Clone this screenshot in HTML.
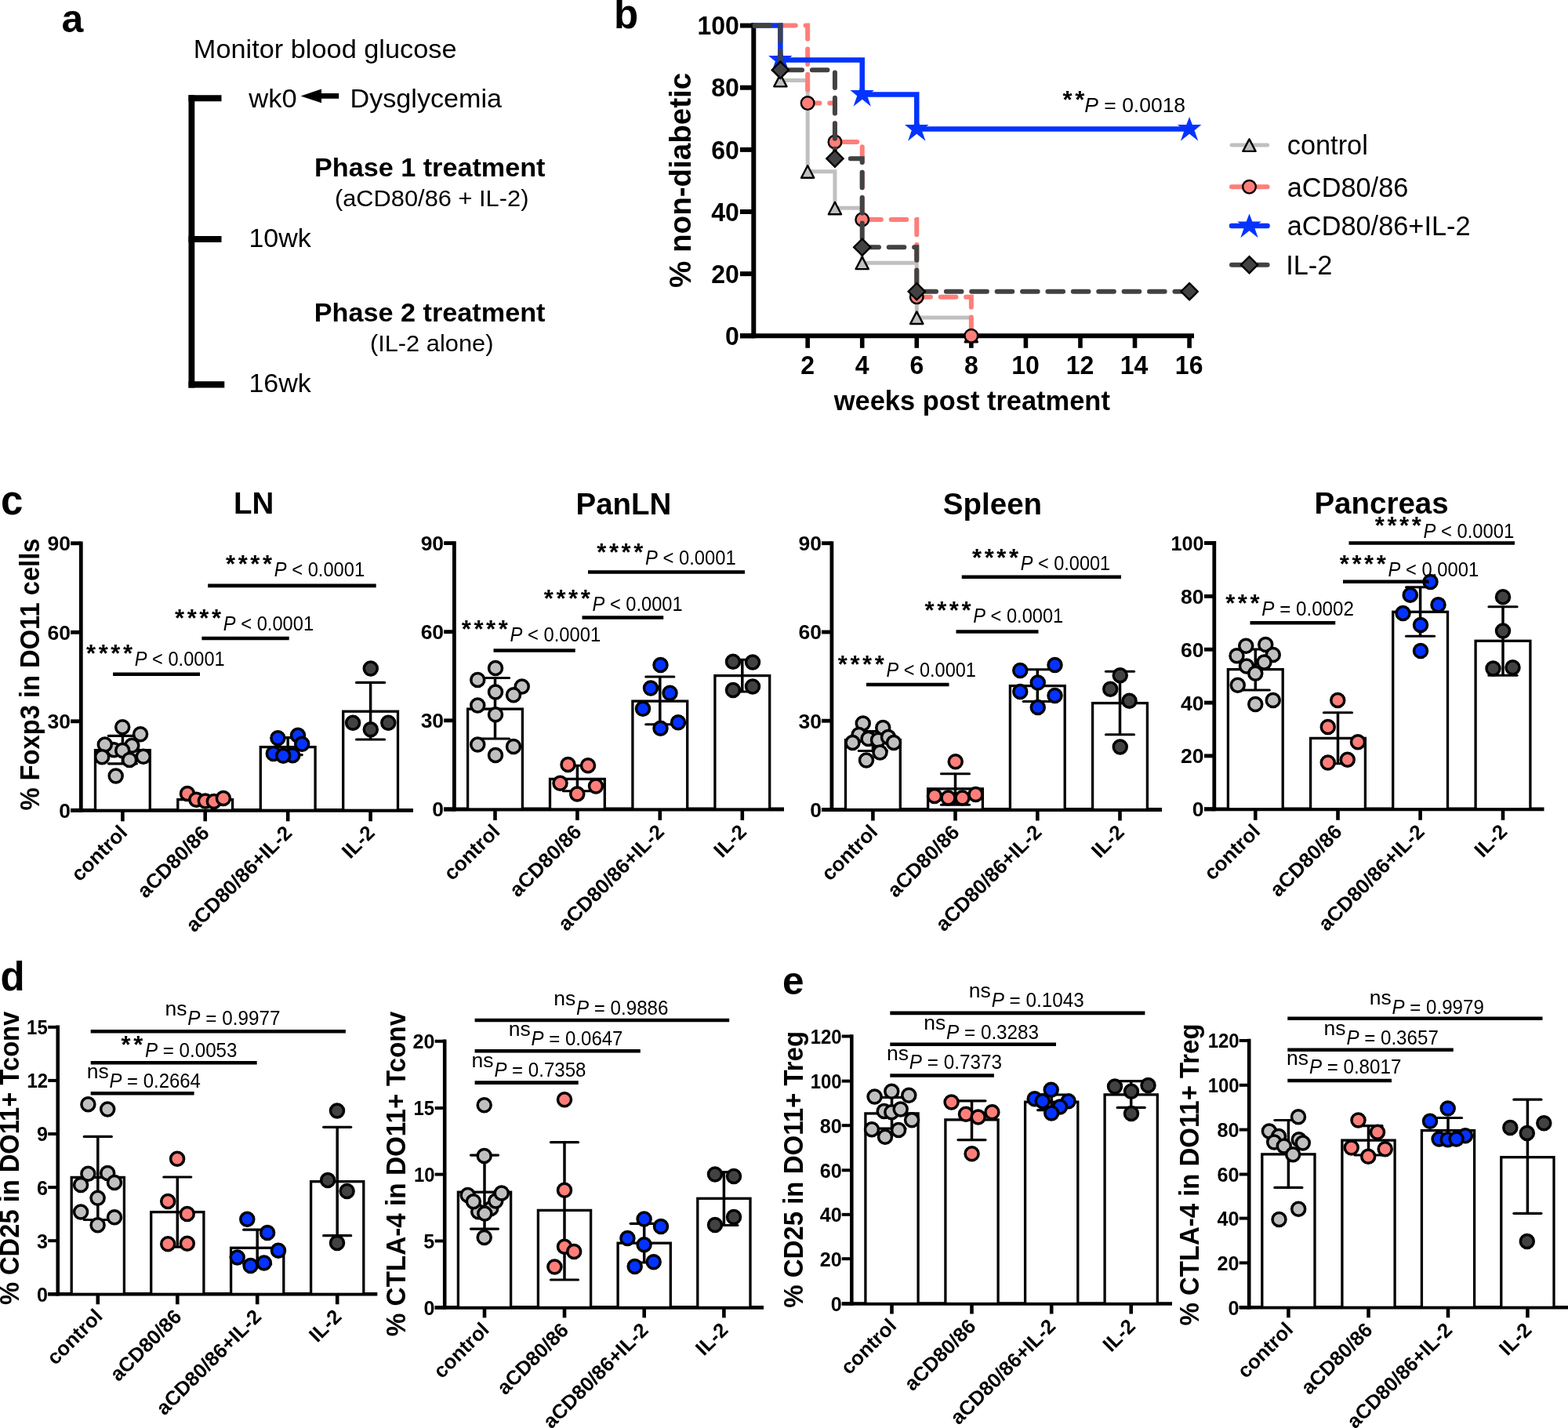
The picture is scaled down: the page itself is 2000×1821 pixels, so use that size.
<!DOCTYPE html>
<html><head><meta charset="utf-8"><title>Figure</title>
<style>
html,body{margin:0;padding:0;background:#fff;}
body{width:2000px;height:1821px;overflow:hidden;}
svg{display:block;font-family:"Liberation Sans",Arial,Helvetica,sans-serif;}
</style></head><body>
<svg width="2000" height="1821" viewBox="0 0 2000 1821">
<rect width="2000" height="1821" fill="#fff"/>
<text x="78.5" y="40.5" font-size="50" font-weight="bold">a</text>
<text x="246.86" y="74.4" font-size="34" textLength="335.65" lengthAdjust="spacingAndGlyphs">Monitor blood glucose</text>
<line x1="244.4" y1="121.25" x2="244.4" y2="494.5" stroke="#000" stroke-width="7.8" stroke-linecap="butt"/>
<line x1="240.5" y1="125.25" x2="282.5" y2="125.25" stroke="#000" stroke-width="8" stroke-linecap="butt"/>
<line x1="240.5" y1="305" x2="282.5" y2="305" stroke="#000" stroke-width="8" stroke-linecap="butt"/>
<line x1="240.5" y1="490.4" x2="286.3" y2="490.4" stroke="#000" stroke-width="8.2" stroke-linecap="butt"/>
<text x="317.2" y="136.8" font-size="34" textLength="61.5" lengthAdjust="spacingAndGlyphs">wk0</text>
<path d="M383.6,122.4 L410,113.6 L410,119 L432.2,119 L432.2,125.8 L410,125.8 L410,131.2 Z" fill="#000"/>
<text x="446.47" y="136.8" font-size="34" textLength="193.64" lengthAdjust="spacingAndGlyphs">Dysglycemia</text>
<text x="401.03" y="225" font-size="34" font-weight="bold" textLength="294.48" lengthAdjust="spacingAndGlyphs">Phase 1 treatment</text>
<text x="426.9" y="262.5" font-size="30.4" textLength="247.51" lengthAdjust="spacingAndGlyphs">(aCD80/86 + IL-2)</text>
<text x="317.45" y="315" font-size="34">10wk</text>
<text x="400.78" y="410" font-size="34" font-weight="bold" textLength="294.74" lengthAdjust="spacingAndGlyphs">Phase 2 treatment</text>
<text x="471.9" y="447.5" font-size="30.4" textLength="157.57" lengthAdjust="spacingAndGlyphs">(IL-2 alone)</text>
<text x="317.45" y="500" font-size="34">16wk</text>
<text x="782.88" y="36.2" font-size="51" font-weight="bold">b</text>
<line x1="961.3" y1="29.3" x2="961.3" y2="431.3" stroke="#000" stroke-width="6" stroke-linecap="butt"/>
<line x1="944" y1="428.3" x2="1523" y2="428.3" stroke="#000" stroke-width="6" stroke-linecap="butt"/>
<line x1="944" y1="428.3" x2="961.3" y2="428.3" stroke="#000" stroke-width="6" stroke-linecap="butt"/>
<text x="924.91" y="440" font-size="33" font-weight="bold" textLength="17.8" lengthAdjust="spacingAndGlyphs">0</text>
<line x1="944" y1="349.16" x2="961.3" y2="349.16" stroke="#000" stroke-width="6" stroke-linecap="butt"/>
<text x="907.15" y="360.86" font-size="33" font-weight="bold" textLength="35.61" lengthAdjust="spacingAndGlyphs">20</text>
<line x1="944" y1="270.02" x2="961.3" y2="270.02" stroke="#000" stroke-width="6" stroke-linecap="butt"/>
<text x="907.15" y="281.72" font-size="33" font-weight="bold" textLength="35.61" lengthAdjust="spacingAndGlyphs">40</text>
<line x1="944" y1="190.88" x2="961.3" y2="190.88" stroke="#000" stroke-width="6" stroke-linecap="butt"/>
<text x="907.15" y="202.58" font-size="33" font-weight="bold" textLength="35.61" lengthAdjust="spacingAndGlyphs">60</text>
<line x1="944" y1="111.74" x2="961.3" y2="111.74" stroke="#000" stroke-width="6" stroke-linecap="butt"/>
<text x="907.15" y="123.44" font-size="33" font-weight="bold" textLength="35.61" lengthAdjust="spacingAndGlyphs">80</text>
<line x1="944" y1="32.6" x2="961.3" y2="32.6" stroke="#000" stroke-width="6" stroke-linecap="butt"/>
<text x="889.38" y="44.3" font-size="33" font-weight="bold" textLength="53.41" lengthAdjust="spacingAndGlyphs">100</text>
<line x1="1030.16" y1="428.3" x2="1030.16" y2="443.8" stroke="#000" stroke-width="5.6" stroke-linecap="butt"/>
<text x="1021.36" y="477" font-size="33" font-weight="bold" textLength="17.8" lengthAdjust="spacingAndGlyphs">2</text>
<line x1="1099.72" y1="428.3" x2="1099.72" y2="443.8" stroke="#000" stroke-width="5.6" stroke-linecap="butt"/>
<text x="1090.68" y="477" font-size="33" font-weight="bold" textLength="17.8" lengthAdjust="spacingAndGlyphs">4</text>
<line x1="1169.28" y1="428.3" x2="1169.28" y2="443.8" stroke="#000" stroke-width="5.6" stroke-linecap="butt"/>
<text x="1160.4" y="477" font-size="33" font-weight="bold" textLength="17.8" lengthAdjust="spacingAndGlyphs">6</text>
<line x1="1238.84" y1="428.3" x2="1238.84" y2="443.8" stroke="#000" stroke-width="5.6" stroke-linecap="butt"/>
<text x="1229.96" y="477" font-size="33" font-weight="bold" textLength="17.8" lengthAdjust="spacingAndGlyphs">8</text>
<line x1="1308.4" y1="428.3" x2="1308.4" y2="443.8" stroke="#000" stroke-width="5.6" stroke-linecap="butt"/>
<text x="1290.23" y="477" font-size="33" font-weight="bold" textLength="35.61" lengthAdjust="spacingAndGlyphs">10</text>
<line x1="1377.96" y1="428.3" x2="1377.96" y2="443.8" stroke="#000" stroke-width="5.6" stroke-linecap="butt"/>
<text x="1359.79" y="477" font-size="33" font-weight="bold" textLength="35.61" lengthAdjust="spacingAndGlyphs">12</text>
<line x1="1447.52" y1="428.3" x2="1447.52" y2="443.8" stroke="#000" stroke-width="5.6" stroke-linecap="butt"/>
<text x="1428.79" y="477" font-size="33" font-weight="bold" textLength="35.61" lengthAdjust="spacingAndGlyphs">14</text>
<line x1="1517.08" y1="428.3" x2="1517.08" y2="443.8" stroke="#000" stroke-width="5.6" stroke-linecap="butt"/>
<text x="1498.83" y="477" font-size="33" font-weight="bold" textLength="35.61" lengthAdjust="spacingAndGlyphs">16</text>
<path d="M960.6,32.6 L995.38,32.6 L995.38,102.44 L1030.16,102.44 L1030.16,218.82 L1064.94,218.82 L1064.94,265.35 L1099.72,265.35 L1099.72,335.19 L1169.28,335.19 L1169.28,405.03 L1238.84,405.03 L1238.84,428.3" fill="none" stroke="#C0C0C0" stroke-width="5" stroke-linejoin="miter" stroke-linecap="butt"/>
<path d="M995.38,94.84 L1003.48,110.34 L987.28,110.34 Z" fill="#C0C0C0" stroke="#000" stroke-width="2.4" stroke-linejoin="round"/>
<path d="M1030.16,211.22 L1038.26,226.72 L1022.06,226.72 Z" fill="#C0C0C0" stroke="#000" stroke-width="2.4" stroke-linejoin="round"/>
<path d="M1064.94,257.75 L1073.04,273.25 L1056.84,273.25 Z" fill="#C0C0C0" stroke="#000" stroke-width="2.4" stroke-linejoin="round"/>
<path d="M1099.72,327.59 L1107.82,343.09 L1091.62,343.09 Z" fill="#C0C0C0" stroke="#000" stroke-width="2.4" stroke-linejoin="round"/>
<path d="M1169.28,397.43 L1177.38,412.93 L1161.18,412.93 Z" fill="#C0C0C0" stroke="#000" stroke-width="2.4" stroke-linejoin="round"/>
<path d="M1238.84,420.7 L1246.94,436.2 L1230.74,436.2 Z" fill="#C0C0C0" stroke="#000" stroke-width="2.4" stroke-linejoin="round"/>
<path d="M960.6,32.6 L1030.16,32.6 L1030.16,131.53 L1064.94,131.53 L1064.94,180.99 L1099.72,180.99 L1099.72,279.91 L1169.28,279.91 L1169.28,378.84 L1238.84,378.84 L1238.84,428.3" fill="none" stroke="#FF7E79" stroke-width="6" stroke-linejoin="miter" stroke-dasharray="19.6 12.8" stroke-dashoffset="-2.2" stroke-linecap="round"/>
<circle cx="1030.16" cy="131.53" r="8.3" fill="#FF7E79" stroke="#000" stroke-width="2.4"/>
<circle cx="1064.94" cy="180.99" r="8.3" fill="#FF7E79" stroke="#000" stroke-width="2.4"/>
<circle cx="1099.72" cy="279.91" r="8.3" fill="#FF7E79" stroke="#000" stroke-width="2.4"/>
<circle cx="1169.28" cy="378.84" r="8.3" fill="#FF7E79" stroke="#000" stroke-width="2.4"/>
<circle cx="1238.84" cy="428.3" r="8.3" fill="#FF7E79" stroke="#000" stroke-width="2.4"/>
<path d="M960.6,32.6 L995.38,32.6 L995.38,76.56 L1099.72,76.56 L1099.72,120.52 L1169.28,120.52 L1169.28,164.49 L1517.08,164.49" fill="none" stroke="#0433FF" stroke-width="6.5" stroke-linejoin="miter" stroke-linecap="butt"/>
<path d="M995.38,60.96 L999.18,71.06 L1010.58,70.96 L1001.88,78.36 L1006.58,91.76 L995.38,82.76 L984.18,91.76 L988.88,78.36 L980.18,70.96 L991.58,71.06 Z" fill="#0433FF"/>
<path d="M1099.72,104.92 L1103.52,115.02 L1114.92,114.92 L1106.22,122.32 L1110.92,135.72 L1099.72,126.72 L1088.52,135.72 L1093.22,122.32 L1084.52,114.92 L1095.92,115.02 Z" fill="#0433FF"/>
<path d="M1169.28,148.89 L1173.08,158.99 L1184.48,158.89 L1175.78,166.29 L1180.48,179.69 L1169.28,170.69 L1158.08,179.69 L1162.78,166.29 L1154.08,158.89 L1165.48,158.99 Z" fill="#0433FF"/>
<path d="M1517.08,148.89 L1520.88,158.99 L1532.28,158.89 L1523.58,166.29 L1528.28,179.69 L1517.08,170.69 L1505.88,179.69 L1510.58,166.29 L1501.88,158.89 L1513.28,158.99 Z" fill="#0433FF"/>
<path d="M960.6,32.6 L995.38,32.6 L995.38,89.15 L1064.94,89.15 L1064.94,202.2 L1099.72,202.2 L1099.72,315.25 L1169.28,315.25 L1169.28,371.75 L1517.08,371.75" fill="none" stroke="#424242" stroke-width="6" stroke-linejoin="miter" stroke-dasharray="19.6 12.8" stroke-dashoffset="-2.2" stroke-linecap="round"/>
<path d="M995.38,78.55 L1005.98,89.15 L995.38,99.75 L984.78,89.15 Z" fill="#424242" stroke="#000" stroke-width="2.4" stroke-linejoin="miter"/>
<path d="M1064.94,191.6 L1075.54,202.2 L1064.94,212.8 L1054.34,202.2 Z" fill="#424242" stroke="#000" stroke-width="2.4" stroke-linejoin="miter"/>
<path d="M1099.72,304.65 L1110.32,315.25 L1099.72,325.85 L1089.12,315.25 Z" fill="#424242" stroke="#000" stroke-width="2.4" stroke-linejoin="miter"/>
<path d="M1169.28,361.15 L1179.88,371.75 L1169.28,382.35 L1158.68,371.75 Z" fill="#424242" stroke="#000" stroke-width="2.4" stroke-linejoin="miter"/>
<path d="M1517.08,361.15 L1527.68,371.75 L1517.08,382.35 L1506.48,371.75 Z" fill="#424242" stroke="#000" stroke-width="2.4" stroke-linejoin="miter"/>
<text x="-0.96" y="0" font-size="39.5" font-weight="bold" textLength="274.18" lengthAdjust="spacingAndGlyphs" transform="translate(881.2,366) rotate(-90)">% non-diabetic</text>
<text x="1063.75" y="522.5" font-size="35" font-weight="bold" textLength="352.12" lengthAdjust="spacingAndGlyphs">weeks post treatment</text>
<text x="1383.31" y="142.75" font-size="26.5" textLength="128.77" lengthAdjust="spacingAndGlyphs"><tspan font-style="italic">P</tspan> = 0.0018</text>
<text x="1355.55" y="137.95" font-size="31" font-weight="bold" letter-spacing="3.6">**</text>
<line x1="1571" y1="185" x2="1616.6" y2="185" stroke="#C0C0C0" stroke-width="5" stroke-linecap="round"/>
<path d="M1593.5,177.4 L1601.6,192.9 L1585.4,192.9 Z" fill="#C0C0C0" stroke="#000" stroke-width="2.4" stroke-linejoin="round"/>
<text x="1641.76" y="197.4" font-size="35.5" textLength="103.04" lengthAdjust="spacingAndGlyphs">control</text>
<line x1="1571" y1="238.3" x2="1616.6" y2="238.3" stroke="#FF7E79" stroke-width="6" stroke-linecap="round" stroke-dasharray="19.6 12.8"/>
<circle cx="1593.5" cy="238.3" r="8.3" fill="#FF7E79" stroke="#000" stroke-width="2.4"/>
<text x="1641.76" y="250.7" font-size="35.5" textLength="154.58" lengthAdjust="spacingAndGlyphs">aCD80/86</text>
<line x1="1571" y1="288" x2="1616.6" y2="288" stroke="#0433FF" stroke-width="6.5" stroke-linecap="round"/>
<path d="M1593.5,272.4 L1597.3,282.5 L1608.7,282.4 L1600,289.8 L1604.7,303.2 L1593.5,294.2 L1582.3,303.2 L1587,289.8 L1578.3,282.4 L1589.7,282.5 Z" fill="#0433FF"/>
<text x="1641.76" y="300.4" font-size="35.5" textLength="233.79" lengthAdjust="spacingAndGlyphs">aCD80/86+IL-2</text>
<line x1="1571" y1="337.7" x2="1616.6" y2="337.7" stroke="#424242" stroke-width="6" stroke-linecap="round" stroke-dasharray="19.6 12.8"/>
<path d="M1593.5,327.1 L1604.1,337.7 L1593.5,348.3 L1582.9,337.7 Z" fill="#424242" stroke="#000" stroke-width="2.4" stroke-linejoin="miter"/>
<text x="1640.21" y="350.1" font-size="35.5" textLength="59.15" lengthAdjust="spacingAndGlyphs">IL-2</text>
<text x="0.96" y="655.5" font-size="51" font-weight="bold">c</text>
<line x1="103.3" y1="690.4" x2="103.3" y2="1035.7" stroke="#000" stroke-width="4.8" stroke-linecap="butt"/>
<line x1="90.1" y1="1033.3" x2="527" y2="1033.3" stroke="#000" stroke-width="4.8" stroke-linecap="butt"/>
<line x1="90.1" y1="1033.3" x2="103.3" y2="1033.3" stroke="#000" stroke-width="4.9" stroke-linecap="butt"/>
<text x="75.25" y="1042.71" font-size="26.5" font-weight="bold" textLength="14.74" lengthAdjust="spacingAndGlyphs">0</text>
<line x1="90.1" y1="919.8" x2="103.3" y2="919.8" stroke="#000" stroke-width="4.9" stroke-linecap="butt"/>
<text x="60.54" y="929.21" font-size="26.5" font-weight="bold" textLength="29.48" lengthAdjust="spacingAndGlyphs">30</text>
<line x1="90.1" y1="806.3" x2="103.3" y2="806.3" stroke="#000" stroke-width="4.9" stroke-linecap="butt"/>
<text x="60.54" y="815.71" font-size="26.5" font-weight="bold" textLength="29.48" lengthAdjust="spacingAndGlyphs">60</text>
<line x1="90.1" y1="692.8" x2="103.3" y2="692.8" stroke="#000" stroke-width="4.9" stroke-linecap="butt"/>
<text x="60.54" y="702.21" font-size="26.5" font-weight="bold" textLength="29.48" lengthAdjust="spacingAndGlyphs">90</text>
<line x1="156.4" y1="1033.3" x2="156.4" y2="1047.3" stroke="#000" stroke-width="4.6" stroke-linecap="butt"/>
<line x1="261.7" y1="1033.3" x2="261.7" y2="1047.3" stroke="#000" stroke-width="4.6" stroke-linecap="butt"/>
<line x1="367.2" y1="1033.3" x2="367.2" y2="1047.3" stroke="#000" stroke-width="4.6" stroke-linecap="butt"/>
<line x1="472.6" y1="1033.3" x2="472.6" y2="1047.3" stroke="#000" stroke-width="4.6" stroke-linecap="butt"/>
<rect x="121.5" y="956.6" width="69.8" height="76.7" fill="#fff" stroke="#000" stroke-width="3.3"/>
<rect x="226.8" y="1019.6" width="69.8" height="13.7" fill="#fff" stroke="#000" stroke-width="3.3"/>
<rect x="332.3" y="952.6" width="69.8" height="80.7" fill="#fff" stroke="#000" stroke-width="3.3"/>
<rect x="437.7" y="907.2" width="69.8" height="126.1" fill="#fff" stroke="#000" stroke-width="3.3"/>
<line x1="156.4" y1="938.3" x2="156.4" y2="973.8" stroke="#000" stroke-width="3.5" stroke-linecap="butt"/>
<line x1="138.4" y1="938.3" x2="174.4" y2="938.3" stroke="#000" stroke-width="3.2" stroke-linecap="round"/>
<line x1="138.4" y1="973.8" x2="174.4" y2="973.8" stroke="#000" stroke-width="3.2" stroke-linecap="round"/>
<line x1="261.7" y1="1014.5" x2="261.7" y2="1024.5" stroke="#000" stroke-width="3.5" stroke-linecap="butt"/>
<line x1="243.7" y1="1014.5" x2="279.7" y2="1014.5" stroke="#000" stroke-width="3.2" stroke-linecap="round"/>
<line x1="243.7" y1="1024.5" x2="279.7" y2="1024.5" stroke="#000" stroke-width="3.2" stroke-linecap="round"/>
<line x1="367.2" y1="940.7" x2="367.2" y2="962.6" stroke="#000" stroke-width="3.5" stroke-linecap="butt"/>
<line x1="349.2" y1="940.7" x2="385.2" y2="940.7" stroke="#000" stroke-width="3.2" stroke-linecap="round"/>
<line x1="349.2" y1="962.6" x2="385.2" y2="962.6" stroke="#000" stroke-width="3.2" stroke-linecap="round"/>
<line x1="472.6" y1="870.4" x2="472.6" y2="943" stroke="#000" stroke-width="3.5" stroke-linecap="butt"/>
<line x1="454.6" y1="870.4" x2="490.6" y2="870.4" stroke="#000" stroke-width="3.2" stroke-linecap="round"/>
<line x1="454.6" y1="943" x2="490.6" y2="943" stroke="#000" stroke-width="3.2" stroke-linecap="round"/>
<circle cx="156.2" cy="927.3" r="8.5" fill="#C0C0C0" stroke="#000" stroke-width="3.5"/>
<circle cx="179.1" cy="936.3" r="8.5" fill="#C0C0C0" stroke="#000" stroke-width="3.5"/>
<circle cx="145.3" cy="956.3" r="8.5" fill="#C0C0C0" stroke="#000" stroke-width="3.5"/>
<circle cx="168.3" cy="950.8" r="8.5" fill="#C0C0C0" stroke="#000" stroke-width="3.5"/>
<circle cx="133.8" cy="949.6" r="8.5" fill="#C0C0C0" stroke="#000" stroke-width="3.5"/>
<circle cx="156.2" cy="956.9" r="8.5" fill="#C0C0C0" stroke="#000" stroke-width="3.5"/>
<circle cx="130.2" cy="965.3" r="8.5" fill="#C0C0C0" stroke="#000" stroke-width="3.5"/>
<circle cx="182.8" cy="964.7" r="8.5" fill="#C0C0C0" stroke="#000" stroke-width="3.5"/>
<circle cx="165.2" cy="969" r="8.5" fill="#C0C0C0" stroke="#000" stroke-width="3.5"/>
<circle cx="147.7" cy="989.5" r="8.5" fill="#C0C0C0" stroke="#000" stroke-width="3.5"/>
<circle cx="239" cy="1011.9" r="8.5" fill="#FF7E79" stroke="#000" stroke-width="3.5"/>
<circle cx="250.4" cy="1019.7" r="8.5" fill="#FF7E79" stroke="#000" stroke-width="3.5"/>
<circle cx="261.9" cy="1021.5" r="8.5" fill="#FF7E79" stroke="#000" stroke-width="3.5"/>
<circle cx="272.8" cy="1022.1" r="8.5" fill="#FF7E79" stroke="#000" stroke-width="3.5"/>
<circle cx="284.9" cy="1017.9" r="8.5" fill="#FF7E79" stroke="#000" stroke-width="3.5"/>
<circle cx="354.4" cy="941.3" r="8.5" fill="#0433FF" stroke="#000" stroke-width="3.5"/>
<circle cx="380" cy="937.8" r="8.5" fill="#0433FF" stroke="#000" stroke-width="3.5"/>
<circle cx="385.2" cy="948.8" r="8.5" fill="#0433FF" stroke="#000" stroke-width="3.5"/>
<circle cx="348.8" cy="960.9" r="8.5" fill="#0433FF" stroke="#000" stroke-width="3.5"/>
<circle cx="373.3" cy="963.2" r="8.5" fill="#0433FF" stroke="#000" stroke-width="3.5"/>
<circle cx="361.3" cy="963.8" r="8.5" fill="#0433FF" stroke="#000" stroke-width="3.5"/>
<circle cx="472.8" cy="852.5" r="8.5" fill="#424242" stroke="#000" stroke-width="3.5"/>
<circle cx="450.1" cy="921.7" r="8.5" fill="#424242" stroke="#000" stroke-width="3.5"/>
<circle cx="495.3" cy="921.7" r="8.5" fill="#424242" stroke="#000" stroke-width="3.5"/>
<circle cx="472.8" cy="930.3" r="8.5" fill="#424242" stroke="#000" stroke-width="3.5"/>
<line x1="144.1" y1="859.8" x2="255" y2="859.8" stroke="#000" stroke-width="4.6" stroke-linecap="butt"/>
<text x="171.79" y="848.7" font-size="25" textLength="114.9" lengthAdjust="spacingAndGlyphs"><tspan font-style="italic">P</tspan> &lt; 0.0001</text>
<text x="110.03" y="843.9" font-size="31" font-weight="bold" letter-spacing="3.6">****</text>
<line x1="257.4" y1="814" x2="368.7" y2="814" stroke="#000" stroke-width="4.6" stroke-linecap="butt"/>
<text x="284.79" y="804" font-size="25" textLength="115.41" lengthAdjust="spacingAndGlyphs"><tspan font-style="italic">P</tspan> &lt; 0.0001</text>
<text x="223.03" y="799.2" font-size="31" font-weight="bold" letter-spacing="3.6">****</text>
<line x1="265.2" y1="746.9" x2="479.7" y2="746.9" stroke="#000" stroke-width="4.6" stroke-linecap="butt"/>
<text x="349.79" y="735.2" font-size="25" textLength="115.41" lengthAdjust="spacingAndGlyphs"><tspan font-style="italic">P</tspan> &lt; 0.0001</text>
<text x="288.03" y="730.4" font-size="31" font-weight="bold" letter-spacing="3.6">****</text>
<text x="-86.19" y="9.36" font-size="26" font-weight="bold" transform="translate(155.9,1057.8) rotate(-45)">control</text>
<text x="-116.09" y="9.36" font-size="26" font-weight="bold" transform="translate(261.2,1057.8) rotate(-45)">aCD80/86</text>
<text x="-177.45" y="9.36" font-size="26" font-weight="bold" transform="translate(366.7,1057.8) rotate(-45)">aCD80/86+IL-2</text>
<text x="-45.11" y="9.36" font-size="26" font-weight="bold" transform="translate(472.1,1057.8) rotate(-45)">IL-2</text>
<text x="298.1" y="655.1" font-size="38.5" font-weight="bold">LN</text>
<text x="-0.82" y="0" font-size="34.5" font-weight="bold" textLength="347.04" lengthAdjust="spacingAndGlyphs" transform="translate(49.7,1032.8) rotate(-90)">% Foxp3 in DO11 cells</text>
<line x1="579.4" y1="690.2" x2="579.4" y2="1034.4" stroke="#000" stroke-width="4.8" stroke-linecap="butt"/>
<line x1="566.2" y1="1032" x2="1000" y2="1032" stroke="#000" stroke-width="4.8" stroke-linecap="butt"/>
<line x1="566.2" y1="1032" x2="579.4" y2="1032" stroke="#000" stroke-width="4.9" stroke-linecap="butt"/>
<text x="551.35" y="1041.41" font-size="26.5" font-weight="bold" textLength="14.74" lengthAdjust="spacingAndGlyphs">0</text>
<line x1="566.2" y1="918.8" x2="579.4" y2="918.8" stroke="#000" stroke-width="4.9" stroke-linecap="butt"/>
<text x="536.64" y="928.21" font-size="26.5" font-weight="bold" textLength="29.48" lengthAdjust="spacingAndGlyphs">30</text>
<line x1="566.2" y1="805.7" x2="579.4" y2="805.7" stroke="#000" stroke-width="4.9" stroke-linecap="butt"/>
<text x="536.64" y="815.11" font-size="26.5" font-weight="bold" textLength="29.48" lengthAdjust="spacingAndGlyphs">60</text>
<line x1="566.2" y1="692.6" x2="579.4" y2="692.6" stroke="#000" stroke-width="4.9" stroke-linecap="butt"/>
<text x="536.64" y="702.01" font-size="26.5" font-weight="bold" textLength="29.48" lengthAdjust="spacingAndGlyphs">90</text>
<line x1="631.5" y1="1032" x2="631.5" y2="1046" stroke="#000" stroke-width="4.6" stroke-linecap="butt"/>
<line x1="736.4" y1="1032" x2="736.4" y2="1046" stroke="#000" stroke-width="4.6" stroke-linecap="butt"/>
<line x1="841.8" y1="1032" x2="841.8" y2="1046" stroke="#000" stroke-width="4.6" stroke-linecap="butt"/>
<line x1="946.8" y1="1032" x2="946.8" y2="1046" stroke="#000" stroke-width="4.6" stroke-linecap="butt"/>
<rect x="596.6" y="904.1" width="69.8" height="127.9" fill="#fff" stroke="#000" stroke-width="3.3"/>
<rect x="701.5" y="993.4" width="69.8" height="38.6" fill="#fff" stroke="#000" stroke-width="3.3"/>
<rect x="806.9" y="894.1" width="69.8" height="137.9" fill="#fff" stroke="#000" stroke-width="3.3"/>
<rect x="911.9" y="861.6" width="69.8" height="170.4" fill="#fff" stroke="#000" stroke-width="3.3"/>
<line x1="631.5" y1="864.5" x2="631.5" y2="942" stroke="#000" stroke-width="3.5" stroke-linecap="butt"/>
<line x1="613.5" y1="864.5" x2="649.5" y2="864.5" stroke="#000" stroke-width="3.2" stroke-linecap="round"/>
<line x1="613.5" y1="942" x2="649.5" y2="942" stroke="#000" stroke-width="3.2" stroke-linecap="round"/>
<line x1="736.4" y1="976.25" x2="736.4" y2="1008.75" stroke="#000" stroke-width="3.5" stroke-linecap="butt"/>
<line x1="718.4" y1="976.25" x2="754.4" y2="976.25" stroke="#000" stroke-width="3.2" stroke-linecap="round"/>
<line x1="718.4" y1="1008.75" x2="754.4" y2="1008.75" stroke="#000" stroke-width="3.2" stroke-linecap="round"/>
<line x1="841.8" y1="863" x2="841.8" y2="923.75" stroke="#000" stroke-width="3.5" stroke-linecap="butt"/>
<line x1="823.8" y1="863" x2="859.8" y2="863" stroke="#000" stroke-width="3.2" stroke-linecap="round"/>
<line x1="823.8" y1="923.75" x2="859.8" y2="923.75" stroke="#000" stroke-width="3.2" stroke-linecap="round"/>
<line x1="946.8" y1="841.25" x2="946.8" y2="882" stroke="#000" stroke-width="3.5" stroke-linecap="butt"/>
<line x1="928.8" y1="841.25" x2="964.8" y2="841.25" stroke="#000" stroke-width="3.2" stroke-linecap="round"/>
<line x1="928.8" y1="882" x2="964.8" y2="882" stroke="#000" stroke-width="3.2" stroke-linecap="round"/>
<circle cx="632" cy="852" r="8.5" fill="#C0C0C0" stroke="#000" stroke-width="3.5"/>
<circle cx="609.25" cy="867" r="8.5" fill="#C0C0C0" stroke="#000" stroke-width="3.5"/>
<circle cx="665.75" cy="875.5" r="8.5" fill="#C0C0C0" stroke="#000" stroke-width="3.5"/>
<circle cx="632" cy="882.5" r="8.5" fill="#C0C0C0" stroke="#000" stroke-width="3.5"/>
<circle cx="655" cy="886.25" r="8.5" fill="#C0C0C0" stroke="#000" stroke-width="3.5"/>
<circle cx="609.25" cy="899.5" r="8.5" fill="#C0C0C0" stroke="#000" stroke-width="3.5"/>
<circle cx="632" cy="911.25" r="8.5" fill="#C0C0C0" stroke="#000" stroke-width="3.5"/>
<circle cx="609.25" cy="949.5" r="8.5" fill="#C0C0C0" stroke="#000" stroke-width="3.5"/>
<circle cx="655" cy="952" r="8.5" fill="#C0C0C0" stroke="#000" stroke-width="3.5"/>
<circle cx="632" cy="963" r="8.5" fill="#C0C0C0" stroke="#000" stroke-width="3.5"/>
<circle cx="724.5" cy="975" r="8.5" fill="#FF7E79" stroke="#000" stroke-width="3.5"/>
<circle cx="750" cy="976.25" r="8.5" fill="#FF7E79" stroke="#000" stroke-width="3.5"/>
<circle cx="714.5" cy="998.75" r="8.5" fill="#FF7E79" stroke="#000" stroke-width="3.5"/>
<circle cx="760" cy="1002.5" r="8.5" fill="#FF7E79" stroke="#000" stroke-width="3.5"/>
<circle cx="736.25" cy="1012.5" r="8.5" fill="#FF7E79" stroke="#000" stroke-width="3.5"/>
<circle cx="842.5" cy="848" r="8.5" fill="#0433FF" stroke="#000" stroke-width="3.5"/>
<circle cx="830" cy="877.5" r="8.5" fill="#0433FF" stroke="#000" stroke-width="3.5"/>
<circle cx="854.5" cy="883.75" r="8.5" fill="#0433FF" stroke="#000" stroke-width="3.5"/>
<circle cx="820" cy="903.75" r="8.5" fill="#0433FF" stroke="#000" stroke-width="3.5"/>
<circle cx="865" cy="921.25" r="8.5" fill="#0433FF" stroke="#000" stroke-width="3.5"/>
<circle cx="842.5" cy="928.75" r="8.5" fill="#0433FF" stroke="#000" stroke-width="3.5"/>
<circle cx="935" cy="843.75" r="8.5" fill="#424242" stroke="#000" stroke-width="3.5"/>
<circle cx="960" cy="844.5" r="8.5" fill="#424242" stroke="#000" stroke-width="3.5"/>
<circle cx="935" cy="880" r="8.5" fill="#424242" stroke="#000" stroke-width="3.5"/>
<circle cx="960" cy="875.5" r="8.5" fill="#424242" stroke="#000" stroke-width="3.5"/>
<line x1="629.5" y1="829.5" x2="733.75" y2="829.5" stroke="#000" stroke-width="4.6" stroke-linecap="butt"/>
<text x="650.54" y="817.5" font-size="25" textLength="115.66" lengthAdjust="spacingAndGlyphs"><tspan font-style="italic">P</tspan> &lt; 0.0001</text>
<text x="588.78" y="812.7" font-size="31" font-weight="bold" letter-spacing="3.6">****</text>
<line x1="742.5" y1="787.5" x2="846.25" y2="787.5" stroke="#000" stroke-width="4.6" stroke-linecap="butt"/>
<text x="755.54" y="778.75" font-size="25" textLength="115.15" lengthAdjust="spacingAndGlyphs"><tspan font-style="italic">P</tspan> &lt; 0.0001</text>
<text x="693.78" y="773.95" font-size="31" font-weight="bold" letter-spacing="3.6">****</text>
<line x1="750" y1="729.5" x2="950" y2="729.5" stroke="#000" stroke-width="4.6" stroke-linecap="butt"/>
<text x="823.04" y="720" font-size="25" textLength="115.66" lengthAdjust="spacingAndGlyphs"><tspan font-style="italic">P</tspan> &lt; 0.0001</text>
<text x="761.28" y="715.2" font-size="31" font-weight="bold" letter-spacing="3.6">****</text>
<text x="-86.19" y="9.36" font-size="26" font-weight="bold" transform="translate(631,1056.5) rotate(-45)">control</text>
<text x="-116.09" y="9.36" font-size="26" font-weight="bold" transform="translate(735.9,1056.5) rotate(-45)">aCD80/86</text>
<text x="-177.45" y="9.36" font-size="26" font-weight="bold" transform="translate(841.3,1056.5) rotate(-45)">aCD80/86+IL-2</text>
<text x="-45.11" y="9.36" font-size="26" font-weight="bold" transform="translate(946.3,1056.5) rotate(-45)">IL-2</text>
<text x="734.47" y="655.75" font-size="38.5" font-weight="bold">PanLN</text>
<line x1="1060.9" y1="690.3" x2="1060.9" y2="1034.9" stroke="#000" stroke-width="4.8" stroke-linecap="butt"/>
<line x1="1048" y1="1032.5" x2="1482" y2="1032.5" stroke="#000" stroke-width="4.8" stroke-linecap="butt"/>
<line x1="1048" y1="1032.5" x2="1060.9" y2="1032.5" stroke="#000" stroke-width="4.9" stroke-linecap="butt"/>
<text x="1033.15" y="1041.91" font-size="26.5" font-weight="bold" textLength="14.74" lengthAdjust="spacingAndGlyphs">0</text>
<line x1="1048" y1="919.2" x2="1060.9" y2="919.2" stroke="#000" stroke-width="4.9" stroke-linecap="butt"/>
<text x="1018.44" y="928.61" font-size="26.5" font-weight="bold" textLength="29.48" lengthAdjust="spacingAndGlyphs">30</text>
<line x1="1048" y1="806" x2="1060.9" y2="806" stroke="#000" stroke-width="4.9" stroke-linecap="butt"/>
<text x="1018.44" y="815.41" font-size="26.5" font-weight="bold" textLength="29.48" lengthAdjust="spacingAndGlyphs">60</text>
<line x1="1048" y1="692.7" x2="1060.9" y2="692.7" stroke="#000" stroke-width="4.9" stroke-linecap="butt"/>
<text x="1018.44" y="702.11" font-size="26.5" font-weight="bold" textLength="29.48" lengthAdjust="spacingAndGlyphs">90</text>
<line x1="1113.4" y1="1032.5" x2="1113.4" y2="1046.5" stroke="#000" stroke-width="4.6" stroke-linecap="butt"/>
<line x1="1218.5" y1="1032.5" x2="1218.5" y2="1046.5" stroke="#000" stroke-width="4.6" stroke-linecap="butt"/>
<line x1="1323.3" y1="1032.5" x2="1323.3" y2="1046.5" stroke="#000" stroke-width="4.6" stroke-linecap="butt"/>
<line x1="1428.5" y1="1032.5" x2="1428.5" y2="1046.5" stroke="#000" stroke-width="4.6" stroke-linecap="butt"/>
<rect x="1078.5" y="943.6" width="69.8" height="88.9" fill="#fff" stroke="#000" stroke-width="3.3"/>
<rect x="1183.6" y="1005.9" width="69.8" height="26.6" fill="#fff" stroke="#000" stroke-width="3.3"/>
<rect x="1288.4" y="874.6" width="69.8" height="157.9" fill="#fff" stroke="#000" stroke-width="3.3"/>
<rect x="1393.6" y="896.6" width="69.8" height="135.9" fill="#fff" stroke="#000" stroke-width="3.3"/>
<line x1="1113.4" y1="932.5" x2="1113.4" y2="957.5" stroke="#000" stroke-width="3.5" stroke-linecap="butt"/>
<line x1="1095.4" y1="932.5" x2="1131.4" y2="932.5" stroke="#000" stroke-width="3.2" stroke-linecap="round"/>
<line x1="1095.4" y1="957.5" x2="1131.4" y2="957.5" stroke="#000" stroke-width="3.2" stroke-linecap="round"/>
<line x1="1218.5" y1="986.75" x2="1218.5" y2="1026.25" stroke="#000" stroke-width="3.5" stroke-linecap="butt"/>
<line x1="1200.5" y1="986.75" x2="1236.5" y2="986.75" stroke="#000" stroke-width="3.2" stroke-linecap="round"/>
<line x1="1200.5" y1="1026.25" x2="1236.5" y2="1026.25" stroke="#000" stroke-width="3.2" stroke-linecap="round"/>
<line x1="1323.3" y1="853.75" x2="1323.3" y2="894.5" stroke="#000" stroke-width="3.5" stroke-linecap="butt"/>
<line x1="1305.3" y1="853.75" x2="1341.3" y2="853.75" stroke="#000" stroke-width="3.2" stroke-linecap="round"/>
<line x1="1305.3" y1="894.5" x2="1341.3" y2="894.5" stroke="#000" stroke-width="3.2" stroke-linecap="round"/>
<line x1="1428.5" y1="856.25" x2="1428.5" y2="936.75" stroke="#000" stroke-width="3.5" stroke-linecap="butt"/>
<line x1="1410.5" y1="856.25" x2="1446.5" y2="856.25" stroke="#000" stroke-width="3.2" stroke-linecap="round"/>
<line x1="1410.5" y1="936.75" x2="1446.5" y2="936.75" stroke="#000" stroke-width="3.2" stroke-linecap="round"/>
<circle cx="1100.75" cy="922.5" r="8.5" fill="#C0C0C0" stroke="#000" stroke-width="3.5"/>
<circle cx="1126.25" cy="928" r="8.5" fill="#C0C0C0" stroke="#000" stroke-width="3.5"/>
<circle cx="1095.5" cy="937" r="8.5" fill="#C0C0C0" stroke="#000" stroke-width="3.5"/>
<circle cx="1107.5" cy="942" r="8.5" fill="#C0C0C0" stroke="#000" stroke-width="3.5"/>
<circle cx="1120" cy="943.75" r="8.5" fill="#C0C0C0" stroke="#000" stroke-width="3.5"/>
<circle cx="1133" cy="940" r="8.5" fill="#C0C0C0" stroke="#000" stroke-width="3.5"/>
<circle cx="1087.5" cy="947" r="8.5" fill="#C0C0C0" stroke="#000" stroke-width="3.5"/>
<circle cx="1140" cy="947" r="8.5" fill="#C0C0C0" stroke="#000" stroke-width="3.5"/>
<circle cx="1122.5" cy="959.5" r="8.5" fill="#C0C0C0" stroke="#000" stroke-width="3.5"/>
<circle cx="1105" cy="969.5" r="8.5" fill="#C0C0C0" stroke="#000" stroke-width="3.5"/>
<circle cx="1218.75" cy="971.25" r="8.5" fill="#FF7E79" stroke="#000" stroke-width="3.5"/>
<circle cx="1192" cy="1015" r="8.5" fill="#FF7E79" stroke="#000" stroke-width="3.5"/>
<circle cx="1209.5" cy="1017.5" r="8.5" fill="#FF7E79" stroke="#000" stroke-width="3.5"/>
<circle cx="1227.5" cy="1017.5" r="8.5" fill="#FF7E79" stroke="#000" stroke-width="3.5"/>
<circle cx="1244.5" cy="1013" r="8.5" fill="#FF7E79" stroke="#000" stroke-width="3.5"/>
<circle cx="1301.25" cy="855" r="8.5" fill="#0433FF" stroke="#000" stroke-width="3.5"/>
<circle cx="1345.5" cy="848" r="8.5" fill="#0433FF" stroke="#000" stroke-width="3.5"/>
<circle cx="1323.75" cy="870.5" r="8.5" fill="#0433FF" stroke="#000" stroke-width="3.5"/>
<circle cx="1301.25" cy="882" r="8.5" fill="#0433FF" stroke="#000" stroke-width="3.5"/>
<circle cx="1345.5" cy="887" r="8.5" fill="#0433FF" stroke="#000" stroke-width="3.5"/>
<circle cx="1323.75" cy="902" r="8.5" fill="#0433FF" stroke="#000" stroke-width="3.5"/>
<circle cx="1428.75" cy="861.25" r="8.5" fill="#424242" stroke="#000" stroke-width="3.5"/>
<circle cx="1416.25" cy="878.75" r="8.5" fill="#424242" stroke="#000" stroke-width="3.5"/>
<circle cx="1440.5" cy="893.75" r="8.5" fill="#424242" stroke="#000" stroke-width="3.5"/>
<circle cx="1428.75" cy="952.5" r="8.5" fill="#424242" stroke="#000" stroke-width="3.5"/>
<line x1="1105" y1="873" x2="1210.5" y2="873" stroke="#000" stroke-width="4.6" stroke-linecap="butt"/>
<text x="1130.54" y="862.5" font-size="25" textLength="114.39" lengthAdjust="spacingAndGlyphs"><tspan font-style="italic">P</tspan> &lt; 0.0001</text>
<text x="1068.78" y="857.7" font-size="31" font-weight="bold" letter-spacing="3.6">****</text>
<line x1="1219.5" y1="805.5" x2="1324.5" y2="805.5" stroke="#000" stroke-width="4.6" stroke-linecap="butt"/>
<text x="1241.29" y="793.75" font-size="25" textLength="114.9" lengthAdjust="spacingAndGlyphs"><tspan font-style="italic">P</tspan> &lt; 0.0001</text>
<text x="1179.53" y="788.95" font-size="31" font-weight="bold" letter-spacing="3.6">****</text>
<line x1="1226.75" y1="735.75" x2="1430" y2="735.75" stroke="#000" stroke-width="4.6" stroke-linecap="butt"/>
<text x="1301.79" y="727" font-size="25" textLength="114.39" lengthAdjust="spacingAndGlyphs"><tspan font-style="italic">P</tspan> &lt; 0.0001</text>
<text x="1240.03" y="722.2" font-size="31" font-weight="bold" letter-spacing="3.6">****</text>
<text x="-86.19" y="9.36" font-size="26" font-weight="bold" transform="translate(1112.9,1057) rotate(-45)">control</text>
<text x="-116.09" y="9.36" font-size="26" font-weight="bold" transform="translate(1218,1057) rotate(-45)">aCD80/86</text>
<text x="-177.45" y="9.36" font-size="26" font-weight="bold" transform="translate(1322.8,1057) rotate(-45)">aCD80/86+IL-2</text>
<text x="-45.11" y="9.36" font-size="26" font-weight="bold" transform="translate(1428,1057) rotate(-45)">IL-2</text>
<text x="1202.84" y="655.75" font-size="38.5" font-weight="bold">Spleen</text>
<line x1="1548.8" y1="690.1" x2="1548.8" y2="1034.2" stroke="#000" stroke-width="4.8" stroke-linecap="butt"/>
<line x1="1536" y1="1031.8" x2="1969.5" y2="1031.8" stroke="#000" stroke-width="4.8" stroke-linecap="butt"/>
<line x1="1536" y1="1031.8" x2="1548.8" y2="1031.8" stroke="#000" stroke-width="4.9" stroke-linecap="butt"/>
<text x="1520.75" y="1041.21" font-size="26.5" font-weight="bold" textLength="14.74" lengthAdjust="spacingAndGlyphs">0</text>
<line x1="1536" y1="963.9" x2="1548.8" y2="963.9" stroke="#000" stroke-width="4.9" stroke-linecap="butt"/>
<text x="1506.05" y="973.31" font-size="26.5" font-weight="bold" textLength="29.48" lengthAdjust="spacingAndGlyphs">20</text>
<line x1="1536" y1="896.1" x2="1548.8" y2="896.1" stroke="#000" stroke-width="4.9" stroke-linecap="butt"/>
<text x="1506.05" y="905.51" font-size="26.5" font-weight="bold" textLength="29.48" lengthAdjust="spacingAndGlyphs">40</text>
<line x1="1536" y1="828.2" x2="1548.8" y2="828.2" stroke="#000" stroke-width="4.9" stroke-linecap="butt"/>
<text x="1506.05" y="837.61" font-size="26.5" font-weight="bold" textLength="29.48" lengthAdjust="spacingAndGlyphs">60</text>
<line x1="1536" y1="760.4" x2="1548.8" y2="760.4" stroke="#000" stroke-width="4.9" stroke-linecap="butt"/>
<text x="1506.05" y="769.81" font-size="26.5" font-weight="bold" textLength="29.48" lengthAdjust="spacingAndGlyphs">80</text>
<line x1="1536" y1="692.5" x2="1548.8" y2="692.5" stroke="#000" stroke-width="4.9" stroke-linecap="butt"/>
<text x="1493.49" y="701.91" font-size="26.5" font-weight="bold" textLength="42" lengthAdjust="spacingAndGlyphs">100</text>
<line x1="1601.3" y1="1031.8" x2="1601.3" y2="1045.8" stroke="#000" stroke-width="4.6" stroke-linecap="butt"/>
<line x1="1706.5" y1="1031.8" x2="1706.5" y2="1045.8" stroke="#000" stroke-width="4.6" stroke-linecap="butt"/>
<line x1="1811.6" y1="1031.8" x2="1811.6" y2="1045.8" stroke="#000" stroke-width="4.6" stroke-linecap="butt"/>
<line x1="1917" y1="1031.8" x2="1917" y2="1045.8" stroke="#000" stroke-width="4.6" stroke-linecap="butt"/>
<rect x="1566.4" y="853.6" width="69.8" height="178.2" fill="#fff" stroke="#000" stroke-width="3.3"/>
<rect x="1671.6" y="941.4" width="69.8" height="90.4" fill="#fff" stroke="#000" stroke-width="3.3"/>
<rect x="1776.7" y="780.3" width="69.8" height="251.5" fill="#fff" stroke="#000" stroke-width="3.3"/>
<rect x="1882.1" y="817.3" width="69.8" height="214.5" fill="#fff" stroke="#000" stroke-width="3.3"/>
<line x1="1601.3" y1="828" x2="1601.3" y2="880" stroke="#000" stroke-width="3.5" stroke-linecap="butt"/>
<line x1="1583.3" y1="828" x2="1619.3" y2="828" stroke="#000" stroke-width="3.2" stroke-linecap="round"/>
<line x1="1583.3" y1="880" x2="1619.3" y2="880" stroke="#000" stroke-width="3.2" stroke-linecap="round"/>
<line x1="1706.5" y1="908.75" x2="1706.5" y2="973.75" stroke="#000" stroke-width="3.5" stroke-linecap="butt"/>
<line x1="1688.5" y1="908.75" x2="1724.5" y2="908.75" stroke="#000" stroke-width="3.2" stroke-linecap="round"/>
<line x1="1688.5" y1="973.75" x2="1724.5" y2="973.75" stroke="#000" stroke-width="3.2" stroke-linecap="round"/>
<line x1="1811.6" y1="748.75" x2="1811.6" y2="811.25" stroke="#000" stroke-width="3.5" stroke-linecap="butt"/>
<line x1="1793.6" y1="748.75" x2="1829.6" y2="748.75" stroke="#000" stroke-width="3.2" stroke-linecap="round"/>
<line x1="1793.6" y1="811.25" x2="1829.6" y2="811.25" stroke="#000" stroke-width="3.2" stroke-linecap="round"/>
<line x1="1917" y1="773.75" x2="1917" y2="861.25" stroke="#000" stroke-width="3.5" stroke-linecap="butt"/>
<line x1="1899" y1="773.75" x2="1935" y2="773.75" stroke="#000" stroke-width="3.2" stroke-linecap="round"/>
<line x1="1899" y1="861.25" x2="1935" y2="861.25" stroke="#000" stroke-width="3.2" stroke-linecap="round"/>
<circle cx="1589.25" cy="823.75" r="8.5" fill="#C0C0C0" stroke="#000" stroke-width="3.5"/>
<circle cx="1614.25" cy="822" r="8.5" fill="#C0C0C0" stroke="#000" stroke-width="3.5"/>
<circle cx="1577.5" cy="836.25" r="8.5" fill="#C0C0C0" stroke="#000" stroke-width="3.5"/>
<circle cx="1623.75" cy="835" r="8.5" fill="#C0C0C0" stroke="#000" stroke-width="3.5"/>
<circle cx="1590" cy="849.5" r="8.5" fill="#C0C0C0" stroke="#000" stroke-width="3.5"/>
<circle cx="1612.5" cy="844.5" r="8.5" fill="#C0C0C0" stroke="#000" stroke-width="3.5"/>
<circle cx="1601.25" cy="858.75" r="8.5" fill="#C0C0C0" stroke="#000" stroke-width="3.5"/>
<circle cx="1578.75" cy="873.75" r="8.5" fill="#C0C0C0" stroke="#000" stroke-width="3.5"/>
<circle cx="1601.25" cy="898" r="8.5" fill="#C0C0C0" stroke="#000" stroke-width="3.5"/>
<circle cx="1623.75" cy="893" r="8.5" fill="#C0C0C0" stroke="#000" stroke-width="3.5"/>
<circle cx="1706.25" cy="893" r="8.5" fill="#FF7E79" stroke="#000" stroke-width="3.5"/>
<circle cx="1693.75" cy="927" r="8.5" fill="#FF7E79" stroke="#000" stroke-width="3.5"/>
<circle cx="1732" cy="946.25" r="8.5" fill="#FF7E79" stroke="#000" stroke-width="3.5"/>
<circle cx="1693.75" cy="972.5" r="8.5" fill="#FF7E79" stroke="#000" stroke-width="3.5"/>
<circle cx="1718.75" cy="968.75" r="8.5" fill="#FF7E79" stroke="#000" stroke-width="3.5"/>
<circle cx="1824.5" cy="742" r="8.5" fill="#0433FF" stroke="#000" stroke-width="3.5"/>
<circle cx="1798.75" cy="758.75" r="8.5" fill="#0433FF" stroke="#000" stroke-width="3.5"/>
<circle cx="1834.5" cy="771.25" r="8.5" fill="#0433FF" stroke="#000" stroke-width="3.5"/>
<circle cx="1789.5" cy="782" r="8.5" fill="#0433FF" stroke="#000" stroke-width="3.5"/>
<circle cx="1812" cy="797" r="8.5" fill="#0433FF" stroke="#000" stroke-width="3.5"/>
<circle cx="1812" cy="830" r="8.5" fill="#0433FF" stroke="#000" stroke-width="3.5"/>
<circle cx="1917" cy="761.25" r="8.5" fill="#424242" stroke="#000" stroke-width="3.5"/>
<circle cx="1917" cy="804.5" r="8.5" fill="#424242" stroke="#000" stroke-width="3.5"/>
<circle cx="1904.5" cy="852.5" r="8.5" fill="#424242" stroke="#000" stroke-width="3.5"/>
<circle cx="1929.5" cy="851.25" r="8.5" fill="#424242" stroke="#000" stroke-width="3.5"/>
<line x1="1594.5" y1="794.25" x2="1703.25" y2="794.25" stroke="#000" stroke-width="4.6" stroke-linecap="butt"/>
<text x="1609.27" y="785" font-size="25" textLength="117.7" lengthAdjust="spacingAndGlyphs"><tspan font-style="italic">P</tspan> = 0.0002</text>
<text x="1563.19" y="780.2" font-size="31" font-weight="bold" letter-spacing="3.6">***</text>
<line x1="1713" y1="741.75" x2="1822.5" y2="741.75" stroke="#000" stroke-width="4.6" stroke-linecap="butt"/>
<text x="1770.54" y="734.5" font-size="25" textLength="115.66" lengthAdjust="spacingAndGlyphs"><tspan font-style="italic">P</tspan> &lt; 0.0001</text>
<text x="1708.78" y="729.7" font-size="31" font-weight="bold" letter-spacing="3.6">****</text>
<line x1="1720.5" y1="692.5" x2="1932" y2="692.5" stroke="#000" stroke-width="4.6" stroke-linecap="butt"/>
<text x="1815.54" y="685.5" font-size="25" textLength="115.66" lengthAdjust="spacingAndGlyphs"><tspan font-style="italic">P</tspan> &lt; 0.0001</text>
<text x="1753.78" y="680.7" font-size="31" font-weight="bold" letter-spacing="3.6">****</text>
<text x="-86.19" y="9.36" font-size="26" font-weight="bold" transform="translate(1600.8,1056.3) rotate(-45)">control</text>
<text x="-116.09" y="9.36" font-size="26" font-weight="bold" transform="translate(1706,1056.3) rotate(-45)">aCD80/86</text>
<text x="-177.45" y="9.36" font-size="26" font-weight="bold" transform="translate(1811.1,1056.3) rotate(-45)">aCD80/86+IL-2</text>
<text x="-45.11" y="9.36" font-size="26" font-weight="bold" transform="translate(1916.5,1056.3) rotate(-45)">IL-2</text>
<text x="1676.45" y="655" font-size="38.5" font-weight="bold">Pancreas</text>
<text x="0.46" y="1263" font-size="51" font-weight="bold">d</text>
<text x="998.12" y="1268.3" font-size="49.5" font-weight="bold">e</text>
<line x1="73.75" y1="1307.5" x2="73.75" y2="1652.6" stroke="#000" stroke-width="4.6" stroke-linecap="butt"/>
<line x1="61.25" y1="1650.3" x2="481.3" y2="1650.3" stroke="#000" stroke-width="4.6" stroke-linecap="butt"/>
<line x1="61.25" y1="1650.3" x2="73.75" y2="1650.3" stroke="#000" stroke-width="4" stroke-linecap="butt"/>
<text x="47.08" y="1659.71" font-size="26.5" font-weight="bold" textLength="14" lengthAdjust="spacingAndGlyphs">0</text>
<line x1="61.25" y1="1582.2" x2="73.75" y2="1582.2" stroke="#000" stroke-width="4" stroke-linecap="butt"/>
<text x="46.96" y="1591.61" font-size="26.5" font-weight="bold" textLength="14" lengthAdjust="spacingAndGlyphs">3</text>
<line x1="61.25" y1="1514.1" x2="73.75" y2="1514.1" stroke="#000" stroke-width="4" stroke-linecap="butt"/>
<text x="46.96" y="1523.51" font-size="26.5" font-weight="bold" textLength="14" lengthAdjust="spacingAndGlyphs">6</text>
<line x1="61.25" y1="1446" x2="73.75" y2="1446" stroke="#000" stroke-width="4" stroke-linecap="butt"/>
<text x="46.96" y="1455.41" font-size="26.5" font-weight="bold" textLength="14" lengthAdjust="spacingAndGlyphs">9</text>
<line x1="61.25" y1="1377.9" x2="73.75" y2="1377.9" stroke="#000" stroke-width="4" stroke-linecap="butt"/>
<text x="34.46" y="1387.31" font-size="26.5" font-weight="bold" textLength="26.6" lengthAdjust="spacingAndGlyphs">12</text>
<line x1="61.25" y1="1309.8" x2="73.75" y2="1309.8" stroke="#000" stroke-width="4" stroke-linecap="butt"/>
<text x="34.1" y="1319.21" font-size="26.5" font-weight="bold" textLength="26.6" lengthAdjust="spacingAndGlyphs">15</text>
<line x1="124.8" y1="1650.3" x2="124.8" y2="1663.3" stroke="#000" stroke-width="4.6" stroke-linecap="butt"/>
<line x1="226.3" y1="1650.3" x2="226.3" y2="1663.3" stroke="#000" stroke-width="4.6" stroke-linecap="butt"/>
<line x1="328.2" y1="1650.3" x2="328.2" y2="1663.3" stroke="#000" stroke-width="4.6" stroke-linecap="butt"/>
<line x1="430.2" y1="1650.3" x2="430.2" y2="1663.3" stroke="#000" stroke-width="4.6" stroke-linecap="butt"/>
<rect x="91.2" y="1501.4" width="67.2" height="148.9" fill="#fff" stroke="#000" stroke-width="3.3"/>
<rect x="192.7" y="1545.6" width="67.2" height="104.7" fill="#fff" stroke="#000" stroke-width="3.3"/>
<rect x="294.6" y="1591.3" width="67.2" height="59" fill="#fff" stroke="#000" stroke-width="3.3"/>
<rect x="396.6" y="1506.7" width="67.2" height="143.6" fill="#fff" stroke="#000" stroke-width="3.3"/>
<line x1="124.8" y1="1449.4" x2="124.8" y2="1555.5" stroke="#000" stroke-width="3.5" stroke-linecap="butt"/>
<line x1="107.3" y1="1449.4" x2="142.3" y2="1449.4" stroke="#000" stroke-width="3.2" stroke-linecap="round"/>
<line x1="107.3" y1="1555.5" x2="142.3" y2="1555.5" stroke="#000" stroke-width="3.2" stroke-linecap="round"/>
<line x1="226.3" y1="1501" x2="226.3" y2="1590.1" stroke="#000" stroke-width="3.5" stroke-linecap="butt"/>
<line x1="208.8" y1="1501" x2="243.8" y2="1501" stroke="#000" stroke-width="3.2" stroke-linecap="round"/>
<line x1="208.8" y1="1590.1" x2="243.8" y2="1590.1" stroke="#000" stroke-width="3.2" stroke-linecap="round"/>
<line x1="328.2" y1="1568.2" x2="328.2" y2="1612" stroke="#000" stroke-width="3.5" stroke-linecap="butt"/>
<line x1="310.7" y1="1568.2" x2="345.7" y2="1568.2" stroke="#000" stroke-width="3.2" stroke-linecap="round"/>
<line x1="310.7" y1="1612" x2="345.7" y2="1612" stroke="#000" stroke-width="3.2" stroke-linecap="round"/>
<line x1="430.2" y1="1437.3" x2="430.2" y2="1575.7" stroke="#000" stroke-width="3.5" stroke-linecap="butt"/>
<line x1="412.7" y1="1437.3" x2="447.7" y2="1437.3" stroke="#000" stroke-width="3.2" stroke-linecap="round"/>
<line x1="412.7" y1="1575.7" x2="447.7" y2="1575.7" stroke="#000" stroke-width="3.2" stroke-linecap="round"/>
<circle cx="112.4" cy="1408.2" r="8.5" fill="#C0C0C0" stroke="#000" stroke-width="3.5"/>
<circle cx="137.2" cy="1414.5" r="8.5" fill="#C0C0C0" stroke="#000" stroke-width="3.5"/>
<circle cx="112.4" cy="1496.7" r="8.5" fill="#C0C0C0" stroke="#000" stroke-width="3.5"/>
<circle cx="137.2" cy="1495.9" r="8.5" fill="#C0C0C0" stroke="#000" stroke-width="3.5"/>
<circle cx="103.1" cy="1511" r="8.5" fill="#C0C0C0" stroke="#000" stroke-width="3.5"/>
<circle cx="146" cy="1508" r="8.5" fill="#C0C0C0" stroke="#000" stroke-width="3.5"/>
<circle cx="124.6" cy="1527.7" r="8.5" fill="#C0C0C0" stroke="#000" stroke-width="3.5"/>
<circle cx="103.1" cy="1545.4" r="8.5" fill="#C0C0C0" stroke="#000" stroke-width="3.5"/>
<circle cx="146" cy="1552.2" r="8.5" fill="#C0C0C0" stroke="#000" stroke-width="3.5"/>
<circle cx="124.6" cy="1562.3" r="8.5" fill="#C0C0C0" stroke="#000" stroke-width="3.5"/>
<circle cx="226.1" cy="1477.7" r="8.5" fill="#FF7E79" stroke="#000" stroke-width="3.5"/>
<circle cx="214.2" cy="1532" r="8.5" fill="#FF7E79" stroke="#000" stroke-width="3.5"/>
<circle cx="238.8" cy="1548" r="8.5" fill="#FF7E79" stroke="#000" stroke-width="3.5"/>
<circle cx="214.2" cy="1586.3" r="8.5" fill="#FF7E79" stroke="#000" stroke-width="3.5"/>
<circle cx="238.8" cy="1585.8" r="8.5" fill="#FF7E79" stroke="#000" stroke-width="3.5"/>
<circle cx="315.3" cy="1554.8" r="8.5" fill="#0433FF" stroke="#000" stroke-width="3.5"/>
<circle cx="341.1" cy="1572" r="8.5" fill="#0433FF" stroke="#000" stroke-width="3.5"/>
<circle cx="355" cy="1594.7" r="8.5" fill="#0433FF" stroke="#000" stroke-width="3.5"/>
<circle cx="302.7" cy="1603.5" r="8.5" fill="#0433FF" stroke="#000" stroke-width="3.5"/>
<circle cx="336.8" cy="1610.4" r="8.5" fill="#0433FF" stroke="#000" stroke-width="3.5"/>
<circle cx="319.6" cy="1614.1" r="8.5" fill="#0433FF" stroke="#000" stroke-width="3.5"/>
<circle cx="430" cy="1416.6" r="8.5" fill="#424242" stroke="#000" stroke-width="3.5"/>
<circle cx="418.1" cy="1505" r="8.5" fill="#424242" stroke="#000" stroke-width="3.5"/>
<circle cx="442.6" cy="1518.9" r="8.5" fill="#424242" stroke="#000" stroke-width="3.5"/>
<circle cx="430" cy="1585.1" r="8.5" fill="#424242" stroke="#000" stroke-width="3.5"/>
<line x1="115.7" y1="1394.3" x2="247.6" y2="1394.3" stroke="#000" stroke-width="4.6" stroke-linecap="butt"/>
<text x="139.48" y="1386.8" font-size="25" textLength="116.45" lengthAdjust="spacingAndGlyphs"><tspan font-style="italic">P</tspan> = 0.2664</text>
<text x="110.67" y="1374.9" font-size="26.5">ns</text>
<line x1="115.7" y1="1355.2" x2="327.7" y2="1355.2" stroke="#000" stroke-width="4.6" stroke-linecap="butt"/>
<text x="184.98" y="1347.6" font-size="25" textLength="117.52" lengthAdjust="spacingAndGlyphs"><tspan font-style="italic">P</tspan> = 0.0053</text>
<text x="154.55" y="1342.8" font-size="31" font-weight="bold" letter-spacing="3.6">**</text>
<line x1="115.7" y1="1315.2" x2="440.9" y2="1315.2" stroke="#000" stroke-width="4.6" stroke-linecap="butt"/>
<text x="239.27" y="1307.2" font-size="25" textLength="118.15" lengthAdjust="spacingAndGlyphs"><tspan font-style="italic">P</tspan> = 0.9977</text>
<text x="210.47" y="1295.3" font-size="26.5">ns</text>
<text x="-85.53" y="9.29" font-size="25.8" font-weight="bold" transform="translate(124.3,1674.8) rotate(-45)">control</text>
<text x="-115.2" y="9.29" font-size="25.8" font-weight="bold" transform="translate(225.8,1674.8) rotate(-45)">aCD80/86</text>
<text x="-176.09" y="9.29" font-size="25.8" font-weight="bold" transform="translate(327.7,1674.8) rotate(-45)">aCD80/86+IL-2</text>
<text x="-44.76" y="9.29" font-size="25.8" font-weight="bold" transform="translate(429.7,1674.8) rotate(-45)">IL-2</text>
<text x="-0.82" y="0" font-size="34.5" font-weight="bold" textLength="374.37" lengthAdjust="spacingAndGlyphs" transform="translate(23.6,1663.3) rotate(-90)">% CD25 in DO11+ Tconv</text>
<line x1="567.2" y1="1325.5" x2="567.2" y2="1669.7" stroke="#000" stroke-width="4.6" stroke-linecap="butt"/>
<line x1="554.7" y1="1667.4" x2="974" y2="1667.4" stroke="#000" stroke-width="4.6" stroke-linecap="butt"/>
<line x1="554.7" y1="1667.4" x2="567.2" y2="1667.4" stroke="#000" stroke-width="4" stroke-linecap="butt"/>
<text x="540.53" y="1676.81" font-size="26.5" font-weight="bold" textLength="14" lengthAdjust="spacingAndGlyphs">0</text>
<line x1="554.7" y1="1582.5" x2="567.2" y2="1582.5" stroke="#000" stroke-width="4" stroke-linecap="butt"/>
<text x="540.16" y="1591.91" font-size="26.5" font-weight="bold" textLength="14" lengthAdjust="spacingAndGlyphs">5</text>
<line x1="554.7" y1="1497.6" x2="567.2" y2="1497.6" stroke="#000" stroke-width="4" stroke-linecap="butt"/>
<text x="527.91" y="1507.01" font-size="26.5" font-weight="bold" textLength="26.6" lengthAdjust="spacingAndGlyphs">10</text>
<line x1="554.7" y1="1413" x2="567.2" y2="1413" stroke="#000" stroke-width="4" stroke-linecap="butt"/>
<text x="527.55" y="1422.41" font-size="26.5" font-weight="bold" textLength="26.6" lengthAdjust="spacingAndGlyphs">15</text>
<line x1="554.7" y1="1327.8" x2="567.2" y2="1327.8" stroke="#000" stroke-width="4" stroke-linecap="butt"/>
<text x="526.56" y="1337.21" font-size="26.5" font-weight="bold" textLength="28" lengthAdjust="spacingAndGlyphs">20</text>
<line x1="618" y1="1667.4" x2="618" y2="1680.4" stroke="#000" stroke-width="4.6" stroke-linecap="butt"/>
<line x1="720" y1="1667.4" x2="720" y2="1680.4" stroke="#000" stroke-width="4.6" stroke-linecap="butt"/>
<line x1="821.7" y1="1667.4" x2="821.7" y2="1680.4" stroke="#000" stroke-width="4.6" stroke-linecap="butt"/>
<line x1="923.4" y1="1667.4" x2="923.4" y2="1680.4" stroke="#000" stroke-width="4.6" stroke-linecap="butt"/>
<rect x="584.4" y="1520.2" width="67.2" height="147.2" fill="#fff" stroke="#000" stroke-width="3.3"/>
<rect x="686.4" y="1543.4" width="67.2" height="124" fill="#fff" stroke="#000" stroke-width="3.3"/>
<rect x="788.1" y="1585.2" width="67.2" height="82.2" fill="#fff" stroke="#000" stroke-width="3.3"/>
<rect x="889.8" y="1528.3" width="67.2" height="139.1" fill="#fff" stroke="#000" stroke-width="3.3"/>
<line x1="618" y1="1473.1" x2="618" y2="1567.1" stroke="#000" stroke-width="3.5" stroke-linecap="butt"/>
<line x1="600.5" y1="1473.1" x2="635.5" y2="1473.1" stroke="#000" stroke-width="3.2" stroke-linecap="round"/>
<line x1="600.5" y1="1567.1" x2="635.5" y2="1567.1" stroke="#000" stroke-width="3.2" stroke-linecap="round"/>
<line x1="720" y1="1456.7" x2="720" y2="1632" stroke="#000" stroke-width="3.5" stroke-linecap="butt"/>
<line x1="702.5" y1="1456.7" x2="737.5" y2="1456.7" stroke="#000" stroke-width="3.2" stroke-linecap="round"/>
<line x1="702.5" y1="1632" x2="737.5" y2="1632" stroke="#000" stroke-width="3.2" stroke-linecap="round"/>
<line x1="821.7" y1="1560.3" x2="821.7" y2="1610" stroke="#000" stroke-width="3.5" stroke-linecap="butt"/>
<line x1="804.2" y1="1560.3" x2="839.2" y2="1560.3" stroke="#000" stroke-width="3.2" stroke-linecap="round"/>
<line x1="804.2" y1="1610" x2="839.2" y2="1610" stroke="#000" stroke-width="3.2" stroke-linecap="round"/>
<line x1="923.4" y1="1494.6" x2="923.4" y2="1562.5" stroke="#000" stroke-width="3.5" stroke-linecap="butt"/>
<line x1="905.9" y1="1494.6" x2="940.9" y2="1494.6" stroke="#000" stroke-width="3.2" stroke-linecap="round"/>
<line x1="905.9" y1="1562.5" x2="940.9" y2="1562.5" stroke="#000" stroke-width="3.2" stroke-linecap="round"/>
<circle cx="617.7" cy="1409.2" r="8.5" fill="#C0C0C0" stroke="#000" stroke-width="3.5"/>
<circle cx="617.7" cy="1474.1" r="8.5" fill="#C0C0C0" stroke="#000" stroke-width="3.5"/>
<circle cx="596.6" cy="1523.9" r="8.5" fill="#C0C0C0" stroke="#000" stroke-width="3.5"/>
<circle cx="610.2" cy="1545.3" r="8.5" fill="#C0C0C0" stroke="#000" stroke-width="3.5"/>
<circle cx="626.3" cy="1541" r="8.5" fill="#C0C0C0" stroke="#000" stroke-width="3.5"/>
<circle cx="603.9" cy="1532.3" r="8.5" fill="#C0C0C0" stroke="#000" stroke-width="3.5"/>
<circle cx="632.3" cy="1531.6" r="8.5" fill="#C0C0C0" stroke="#000" stroke-width="3.5"/>
<circle cx="639.8" cy="1521.5" r="8.5" fill="#C0C0C0" stroke="#000" stroke-width="3.5"/>
<circle cx="618.3" cy="1547.4" r="8.5" fill="#C0C0C0" stroke="#000" stroke-width="3.5"/>
<circle cx="617.7" cy="1578" r="8.5" fill="#C0C0C0" stroke="#000" stroke-width="3.5"/>
<circle cx="720" cy="1402.3" r="8.5" fill="#FF7E79" stroke="#000" stroke-width="3.5"/>
<circle cx="720" cy="1517.8" r="8.5" fill="#FF7E79" stroke="#000" stroke-width="3.5"/>
<circle cx="720" cy="1589.8" r="8.5" fill="#FF7E79" stroke="#000" stroke-width="3.5"/>
<circle cx="732.2" cy="1596.1" r="8.5" fill="#FF7E79" stroke="#000" stroke-width="3.5"/>
<circle cx="707.4" cy="1615.6" r="8.5" fill="#FF7E79" stroke="#000" stroke-width="3.5"/>
<circle cx="821.6" cy="1554.4" r="8.5" fill="#0433FF" stroke="#000" stroke-width="3.5"/>
<circle cx="843" cy="1564" r="8.5" fill="#0433FF" stroke="#000" stroke-width="3.5"/>
<circle cx="800.4" cy="1579" r="8.5" fill="#0433FF" stroke="#000" stroke-width="3.5"/>
<circle cx="821.6" cy="1587.3" r="8.5" fill="#0433FF" stroke="#000" stroke-width="3.5"/>
<circle cx="809.7" cy="1615.1" r="8.5" fill="#0433FF" stroke="#000" stroke-width="3.5"/>
<circle cx="833.7" cy="1609.3" r="8.5" fill="#0433FF" stroke="#000" stroke-width="3.5"/>
<circle cx="912" cy="1497.6" r="8.5" fill="#424242" stroke="#000" stroke-width="3.5"/>
<circle cx="936" cy="1500.1" r="8.5" fill="#424242" stroke="#000" stroke-width="3.5"/>
<circle cx="936" cy="1551.9" r="8.5" fill="#424242" stroke="#000" stroke-width="3.5"/>
<circle cx="912" cy="1562" r="8.5" fill="#424242" stroke="#000" stroke-width="3.5"/>
<line x1="605.6" y1="1380.6" x2="737.7" y2="1380.6" stroke="#000" stroke-width="4.6" stroke-linecap="butt"/>
<text x="630.38" y="1373.3" font-size="25" textLength="117.1" lengthAdjust="spacingAndGlyphs"><tspan font-style="italic">P</tspan> = 0.7358</text>
<text x="601.57" y="1361.4" font-size="26.5">ns</text>
<line x1="605.6" y1="1340.2" x2="816.8" y2="1340.2" stroke="#000" stroke-width="4.6" stroke-linecap="butt"/>
<text x="677.58" y="1332.9" font-size="25" textLength="116.93" lengthAdjust="spacingAndGlyphs"><tspan font-style="italic">P</tspan> = 0.0647</text>
<text x="648.77" y="1321" font-size="26.5">ns</text>
<line x1="605.6" y1="1301" x2="930.2" y2="1301" stroke="#000" stroke-width="4.6" stroke-linecap="butt"/>
<text x="734.98" y="1294.2" font-size="25" textLength="117.52" lengthAdjust="spacingAndGlyphs"><tspan font-style="italic">P</tspan> = 0.9886</text>
<text x="706.17" y="1282.3" font-size="26.5">ns</text>
<text x="-85.53" y="9.29" font-size="25.8" font-weight="bold" transform="translate(617.5,1691.9) rotate(-45)">control</text>
<text x="-115.2" y="9.29" font-size="25.8" font-weight="bold" transform="translate(719.5,1691.9) rotate(-45)">aCD80/86</text>
<text x="-176.09" y="9.29" font-size="25.8" font-weight="bold" transform="translate(821.2,1691.9) rotate(-45)">aCD80/86+IL-2</text>
<text x="-44.76" y="9.29" font-size="25.8" font-weight="bold" transform="translate(922.9,1691.9) rotate(-45)">IL-2</text>
<text x="-0.83" y="0" font-size="34.5" font-weight="bold" textLength="414.54" lengthAdjust="spacingAndGlyphs" transform="translate(517.2,1703.5) rotate(-90)">% CTLA-4 in DO11+ Tconv</text>
<line x1="1086.3" y1="1319.2" x2="1086.3" y2="1664.8" stroke="#000" stroke-width="4.6" stroke-linecap="butt"/>
<line x1="1073.8" y1="1662.5" x2="1495" y2="1662.5" stroke="#000" stroke-width="4.6" stroke-linecap="butt"/>
<line x1="1073.8" y1="1662.5" x2="1086.3" y2="1662.5" stroke="#000" stroke-width="4" stroke-linecap="butt"/>
<text x="1059.63" y="1671.91" font-size="26.5" font-weight="bold" textLength="14" lengthAdjust="spacingAndGlyphs">0</text>
<line x1="1073.8" y1="1605.2" x2="1086.3" y2="1605.2" stroke="#000" stroke-width="4" stroke-linecap="butt"/>
<text x="1045.66" y="1614.61" font-size="26.5" font-weight="bold" textLength="28" lengthAdjust="spacingAndGlyphs">20</text>
<line x1="1073.8" y1="1548.8" x2="1086.3" y2="1548.8" stroke="#000" stroke-width="4" stroke-linecap="butt"/>
<text x="1045.66" y="1558.21" font-size="26.5" font-weight="bold" textLength="28" lengthAdjust="spacingAndGlyphs">40</text>
<line x1="1073.8" y1="1492.3" x2="1086.3" y2="1492.3" stroke="#000" stroke-width="4" stroke-linecap="butt"/>
<text x="1045.66" y="1501.71" font-size="26.5" font-weight="bold" textLength="28" lengthAdjust="spacingAndGlyphs">60</text>
<line x1="1073.8" y1="1435.2" x2="1086.3" y2="1435.2" stroke="#000" stroke-width="4" stroke-linecap="butt"/>
<text x="1045.66" y="1444.61" font-size="26.5" font-weight="bold" textLength="28" lengthAdjust="spacingAndGlyphs">80</text>
<line x1="1073.8" y1="1378.6" x2="1086.3" y2="1378.6" stroke="#000" stroke-width="4" stroke-linecap="butt"/>
<text x="1033.74" y="1388.01" font-size="26.5" font-weight="bold" textLength="39.9" lengthAdjust="spacingAndGlyphs">100</text>
<line x1="1073.8" y1="1321.5" x2="1086.3" y2="1321.5" stroke="#000" stroke-width="4" stroke-linecap="butt"/>
<text x="1033.74" y="1330.91" font-size="26.5" font-weight="bold" textLength="39.9" lengthAdjust="spacingAndGlyphs">120</text>
<line x1="1137.5" y1="1662.5" x2="1137.5" y2="1675.5" stroke="#000" stroke-width="4.6" stroke-linecap="butt"/>
<line x1="1239.5" y1="1662.5" x2="1239.5" y2="1675.5" stroke="#000" stroke-width="4.6" stroke-linecap="butt"/>
<line x1="1341.2" y1="1662.5" x2="1341.2" y2="1675.5" stroke="#000" stroke-width="4.6" stroke-linecap="butt"/>
<line x1="1442.7" y1="1662.5" x2="1442.7" y2="1675.5" stroke="#000" stroke-width="4.6" stroke-linecap="butt"/>
<rect x="1103.9" y="1419.9" width="67.2" height="242.6" fill="#fff" stroke="#000" stroke-width="3.3"/>
<rect x="1205.9" y="1427.9" width="67.2" height="234.6" fill="#fff" stroke="#000" stroke-width="3.3"/>
<rect x="1307.6" y="1405.2" width="67.2" height="257.3" fill="#fff" stroke="#000" stroke-width="3.3"/>
<rect x="1409.1" y="1395.9" width="67.2" height="266.6" fill="#fff" stroke="#000" stroke-width="3.3"/>
<line x1="1137.5" y1="1399.3" x2="1137.5" y2="1439.2" stroke="#000" stroke-width="3.5" stroke-linecap="butt"/>
<line x1="1120" y1="1399.3" x2="1155" y2="1399.3" stroke="#000" stroke-width="3.2" stroke-linecap="round"/>
<line x1="1120" y1="1439.2" x2="1155" y2="1439.2" stroke="#000" stroke-width="3.2" stroke-linecap="round"/>
<line x1="1239.5" y1="1403.8" x2="1239.5" y2="1453.6" stroke="#000" stroke-width="3.5" stroke-linecap="butt"/>
<line x1="1222" y1="1403.8" x2="1257" y2="1403.8" stroke="#000" stroke-width="3.2" stroke-linecap="round"/>
<line x1="1222" y1="1453.6" x2="1257" y2="1453.6" stroke="#000" stroke-width="3.2" stroke-linecap="round"/>
<line x1="1341.2" y1="1396" x2="1341.2" y2="1415.7" stroke="#000" stroke-width="3.5" stroke-linecap="butt"/>
<line x1="1323.7" y1="1396" x2="1358.7" y2="1396" stroke="#000" stroke-width="3.2" stroke-linecap="round"/>
<line x1="1323.7" y1="1415.7" x2="1358.7" y2="1415.7" stroke="#000" stroke-width="3.2" stroke-linecap="round"/>
<line x1="1442.7" y1="1378.6" x2="1442.7" y2="1412.4" stroke="#000" stroke-width="3.5" stroke-linecap="butt"/>
<line x1="1425.2" y1="1378.6" x2="1460.2" y2="1378.6" stroke="#000" stroke-width="3.2" stroke-linecap="round"/>
<line x1="1425.2" y1="1412.4" x2="1460.2" y2="1412.4" stroke="#000" stroke-width="3.2" stroke-linecap="round"/>
<circle cx="1115.6" cy="1398.5" r="8.5" fill="#C0C0C0" stroke="#000" stroke-width="3.5"/>
<circle cx="1137.3" cy="1391.7" r="8.5" fill="#C0C0C0" stroke="#000" stroke-width="3.5"/>
<circle cx="1159.3" cy="1396.8" r="8.5" fill="#C0C0C0" stroke="#000" stroke-width="3.5"/>
<circle cx="1127.7" cy="1417" r="8.5" fill="#C0C0C0" stroke="#000" stroke-width="3.5"/>
<circle cx="1137.3" cy="1418.2" r="8.5" fill="#C0C0C0" stroke="#000" stroke-width="3.5"/>
<circle cx="1148.7" cy="1414.4" r="8.5" fill="#C0C0C0" stroke="#000" stroke-width="3.5"/>
<circle cx="1163.1" cy="1428.3" r="8.5" fill="#C0C0C0" stroke="#000" stroke-width="3.5"/>
<circle cx="1112" cy="1440.2" r="8.5" fill="#C0C0C0" stroke="#000" stroke-width="3.5"/>
<circle cx="1146.1" cy="1441" r="8.5" fill="#C0C0C0" stroke="#000" stroke-width="3.5"/>
<circle cx="1129" cy="1449.8" r="8.5" fill="#C0C0C0" stroke="#000" stroke-width="3.5"/>
<circle cx="1213.6" cy="1405.6" r="8.5" fill="#FF7E79" stroke="#000" stroke-width="3.5"/>
<circle cx="1232" cy="1420.8" r="8.5" fill="#FF7E79" stroke="#000" stroke-width="3.5"/>
<circle cx="1247.7" cy="1424.5" r="8.5" fill="#FF7E79" stroke="#000" stroke-width="3.5"/>
<circle cx="1265.4" cy="1418.2" r="8.5" fill="#FF7E79" stroke="#000" stroke-width="3.5"/>
<circle cx="1239.6" cy="1471.3" r="8.5" fill="#FF7E79" stroke="#000" stroke-width="3.5"/>
<circle cx="1340.7" cy="1389.7" r="8.5" fill="#0433FF" stroke="#000" stroke-width="3.5"/>
<circle cx="1319.7" cy="1401.3" r="8.5" fill="#0433FF" stroke="#000" stroke-width="3.5"/>
<circle cx="1329.8" cy="1404.3" r="8.5" fill="#0433FF" stroke="#000" stroke-width="3.5"/>
<circle cx="1362.7" cy="1404.3" r="8.5" fill="#0433FF" stroke="#000" stroke-width="3.5"/>
<circle cx="1352" cy="1411.4" r="8.5" fill="#0433FF" stroke="#000" stroke-width="3.5"/>
<circle cx="1341.2" cy="1419.5" r="8.5" fill="#0433FF" stroke="#000" stroke-width="3.5"/>
<circle cx="1422" cy="1385.4" r="8.5" fill="#424242" stroke="#000" stroke-width="3.5"/>
<circle cx="1464.5" cy="1384.1" r="8.5" fill="#424242" stroke="#000" stroke-width="3.5"/>
<circle cx="1443" cy="1391.7" r="8.5" fill="#424242" stroke="#000" stroke-width="3.5"/>
<circle cx="1443" cy="1420" r="8.5" fill="#424242" stroke="#000" stroke-width="3.5"/>
<line x1="1135.3" y1="1371.5" x2="1267.9" y2="1371.5" stroke="#000" stroke-width="4.6" stroke-linecap="butt"/>
<text x="1159.77" y="1363.4" font-size="25" textLength="118.13" lengthAdjust="spacingAndGlyphs"><tspan font-style="italic">P</tspan> = 0.7373</text>
<text x="1130.97" y="1351.5" font-size="26.5">ns</text>
<line x1="1135.3" y1="1331.8" x2="1347" y2="1331.8" stroke="#000" stroke-width="4.6" stroke-linecap="butt"/>
<text x="1207.07" y="1324.7" font-size="25" textLength="118.03" lengthAdjust="spacingAndGlyphs"><tspan font-style="italic">P</tspan> = 0.3283</text>
<text x="1178.27" y="1312.8" font-size="26.5">ns</text>
<line x1="1135.3" y1="1291.9" x2="1460.4" y2="1291.9" stroke="#000" stroke-width="4.6" stroke-linecap="butt"/>
<text x="1264.67" y="1284.3" font-size="25" textLength="118.03" lengthAdjust="spacingAndGlyphs"><tspan font-style="italic">P</tspan> = 0.1043</text>
<text x="1235.87" y="1272.4" font-size="26.5">ns</text>
<text x="-85.53" y="9.29" font-size="25.8" font-weight="bold" transform="translate(1137,1687) rotate(-45)">control</text>
<text x="-115.2" y="9.29" font-size="25.8" font-weight="bold" transform="translate(1239,1687) rotate(-45)">aCD80/86</text>
<text x="-176.09" y="9.29" font-size="25.8" font-weight="bold" transform="translate(1340.7,1687) rotate(-45)">aCD80/86+IL-2</text>
<text x="-44.76" y="9.29" font-size="25.8" font-weight="bold" transform="translate(1442.2,1687) rotate(-45)">IL-2</text>
<text x="-0.82" y="0" font-size="34.5" font-weight="bold" textLength="352.93" lengthAdjust="spacingAndGlyphs" transform="translate(1024,1667) rotate(-90)">% CD25 in DO11+ Treg</text>
<line x1="1593.2" y1="1324.7" x2="1593.2" y2="1669.6" stroke="#000" stroke-width="4.6" stroke-linecap="butt"/>
<line x1="1580.7" y1="1667.3" x2="2000" y2="1667.3" stroke="#000" stroke-width="4.6" stroke-linecap="butt"/>
<line x1="1580.7" y1="1667.3" x2="1593.2" y2="1667.3" stroke="#000" stroke-width="4" stroke-linecap="butt"/>
<text x="1566.53" y="1676.71" font-size="26.5" font-weight="bold" textLength="14" lengthAdjust="spacingAndGlyphs">0</text>
<line x1="1580.7" y1="1610.4" x2="1593.2" y2="1610.4" stroke="#000" stroke-width="4" stroke-linecap="butt"/>
<text x="1552.56" y="1619.81" font-size="26.5" font-weight="bold" textLength="28" lengthAdjust="spacingAndGlyphs">20</text>
<line x1="1580.7" y1="1553.6" x2="1593.2" y2="1553.6" stroke="#000" stroke-width="4" stroke-linecap="butt"/>
<text x="1552.56" y="1563.01" font-size="26.5" font-weight="bold" textLength="28" lengthAdjust="spacingAndGlyphs">40</text>
<line x1="1580.7" y1="1497.5" x2="1593.2" y2="1497.5" stroke="#000" stroke-width="4" stroke-linecap="butt"/>
<text x="1552.56" y="1506.91" font-size="26.5" font-weight="bold" textLength="28" lengthAdjust="spacingAndGlyphs">60</text>
<line x1="1580.7" y1="1440.6" x2="1593.2" y2="1440.6" stroke="#000" stroke-width="4" stroke-linecap="butt"/>
<text x="1552.56" y="1450.01" font-size="26.5" font-weight="bold" textLength="28" lengthAdjust="spacingAndGlyphs">80</text>
<line x1="1580.7" y1="1383.8" x2="1593.2" y2="1383.8" stroke="#000" stroke-width="4" stroke-linecap="butt"/>
<text x="1540.64" y="1393.21" font-size="26.5" font-weight="bold" textLength="39.9" lengthAdjust="spacingAndGlyphs">100</text>
<line x1="1580.7" y1="1327" x2="1593.2" y2="1327" stroke="#000" stroke-width="4" stroke-linecap="butt"/>
<text x="1540.64" y="1336.41" font-size="26.5" font-weight="bold" textLength="39.9" lengthAdjust="spacingAndGlyphs">120</text>
<line x1="1643.4" y1="1667.3" x2="1643.4" y2="1680.3" stroke="#000" stroke-width="4.6" stroke-linecap="butt"/>
<line x1="1745.5" y1="1667.3" x2="1745.5" y2="1680.3" stroke="#000" stroke-width="4.6" stroke-linecap="butt"/>
<line x1="1847" y1="1667.3" x2="1847" y2="1680.3" stroke="#000" stroke-width="4.6" stroke-linecap="butt"/>
<line x1="1948.4" y1="1667.3" x2="1948.4" y2="1680.3" stroke="#000" stroke-width="4.6" stroke-linecap="butt"/>
<rect x="1609.8" y="1471.9" width="67.2" height="195.4" fill="#fff" stroke="#000" stroke-width="3.3"/>
<rect x="1711.9" y="1454.1" width="67.2" height="213.2" fill="#fff" stroke="#000" stroke-width="3.3"/>
<rect x="1813.4" y="1441.6" width="67.2" height="225.7" fill="#fff" stroke="#000" stroke-width="3.3"/>
<rect x="1914.8" y="1475.7" width="67.2" height="191.6" fill="#fff" stroke="#000" stroke-width="3.3"/>
<line x1="1643.4" y1="1428.5" x2="1643.4" y2="1514.4" stroke="#000" stroke-width="3.5" stroke-linecap="butt"/>
<line x1="1625.9" y1="1428.5" x2="1660.9" y2="1428.5" stroke="#000" stroke-width="3.2" stroke-linecap="round"/>
<line x1="1625.9" y1="1514.4" x2="1660.9" y2="1514.4" stroke="#000" stroke-width="3.2" stroke-linecap="round"/>
<line x1="1745.5" y1="1435.6" x2="1745.5" y2="1473" stroke="#000" stroke-width="3.5" stroke-linecap="butt"/>
<line x1="1728" y1="1435.6" x2="1763" y2="1435.6" stroke="#000" stroke-width="3.2" stroke-linecap="round"/>
<line x1="1728" y1="1473" x2="1763" y2="1473" stroke="#000" stroke-width="3.2" stroke-linecap="round"/>
<line x1="1847" y1="1425.5" x2="1847" y2="1455" stroke="#000" stroke-width="3.5" stroke-linecap="butt"/>
<line x1="1829.5" y1="1425.5" x2="1864.5" y2="1425.5" stroke="#000" stroke-width="3.2" stroke-linecap="round"/>
<line x1="1829.5" y1="1455" x2="1864.5" y2="1455" stroke="#000" stroke-width="3.2" stroke-linecap="round"/>
<line x1="1948.4" y1="1402.2" x2="1948.4" y2="1547.3" stroke="#000" stroke-width="3.5" stroke-linecap="butt"/>
<line x1="1930.9" y1="1402.2" x2="1965.9" y2="1402.2" stroke="#000" stroke-width="3.2" stroke-linecap="round"/>
<line x1="1930.9" y1="1547.3" x2="1965.9" y2="1547.3" stroke="#000" stroke-width="3.2" stroke-linecap="round"/>
<circle cx="1656" cy="1424.2" r="8.5" fill="#C0C0C0" stroke="#000" stroke-width="3.5"/>
<circle cx="1618.9" cy="1442.4" r="8.5" fill="#C0C0C0" stroke="#000" stroke-width="3.5"/>
<circle cx="1631" cy="1449" r="8.5" fill="#C0C0C0" stroke="#000" stroke-width="3.5"/>
<circle cx="1625.2" cy="1456.6" r="8.5" fill="#C0C0C0" stroke="#000" stroke-width="3.5"/>
<circle cx="1656.8" cy="1453.3" r="8.5" fill="#C0C0C0" stroke="#000" stroke-width="3.5"/>
<circle cx="1661.8" cy="1457.6" r="8.5" fill="#C0C0C0" stroke="#000" stroke-width="3.5"/>
<circle cx="1637.8" cy="1461.4" r="8.5" fill="#C0C0C0" stroke="#000" stroke-width="3.5"/>
<circle cx="1649.2" cy="1472.2" r="8.5" fill="#C0C0C0" stroke="#000" stroke-width="3.5"/>
<circle cx="1656.2" cy="1541.7" r="8.5" fill="#C0C0C0" stroke="#000" stroke-width="3.5"/>
<circle cx="1631.5" cy="1555.1" r="8.5" fill="#C0C0C0" stroke="#000" stroke-width="3.5"/>
<circle cx="1732.5" cy="1428.5" r="8.5" fill="#FF7E79" stroke="#000" stroke-width="3.5"/>
<circle cx="1757" cy="1443.7" r="8.5" fill="#FF7E79" stroke="#000" stroke-width="3.5"/>
<circle cx="1723.7" cy="1463.4" r="8.5" fill="#FF7E79" stroke="#000" stroke-width="3.5"/>
<circle cx="1766.7" cy="1465.2" r="8.5" fill="#FF7E79" stroke="#000" stroke-width="3.5"/>
<circle cx="1745.2" cy="1474.8" r="8.5" fill="#FF7E79" stroke="#000" stroke-width="3.5"/>
<circle cx="1846.7" cy="1413.4" r="8.5" fill="#0433FF" stroke="#000" stroke-width="3.5"/>
<circle cx="1824" cy="1429.8" r="8.5" fill="#0433FF" stroke="#000" stroke-width="3.5"/>
<circle cx="1869" cy="1448.2" r="8.5" fill="#0433FF" stroke="#000" stroke-width="3.5"/>
<circle cx="1835.6" cy="1452.5" r="8.5" fill="#0433FF" stroke="#000" stroke-width="3.5"/>
<circle cx="1846.7" cy="1453.3" r="8.5" fill="#0433FF" stroke="#000" stroke-width="3.5"/>
<circle cx="1857.6" cy="1452.5" r="8.5" fill="#0433FF" stroke="#000" stroke-width="3.5"/>
<circle cx="1926.3" cy="1438.1" r="8.5" fill="#424242" stroke="#000" stroke-width="3.5"/>
<circle cx="1969.3" cy="1432.3" r="8.5" fill="#424242" stroke="#000" stroke-width="3.5"/>
<circle cx="1947.8" cy="1444.9" r="8.5" fill="#424242" stroke="#000" stroke-width="3.5"/>
<circle cx="1947.8" cy="1582.9" r="8.5" fill="#424242" stroke="#000" stroke-width="3.5"/>
<line x1="1642.3" y1="1378" x2="1775" y2="1378" stroke="#000" stroke-width="4.6" stroke-linecap="butt"/>
<text x="1669.88" y="1369.4" font-size="25" textLength="117.44" lengthAdjust="spacingAndGlyphs"><tspan font-style="italic">P</tspan> = 0.8017</text>
<text x="1641.07" y="1357.5" font-size="26.5">ns</text>
<line x1="1642.3" y1="1338.8" x2="1853.8" y2="1338.8" stroke="#000" stroke-width="4.6" stroke-linecap="butt"/>
<text x="1717.38" y="1332" font-size="25" textLength="117.44" lengthAdjust="spacingAndGlyphs"><tspan font-style="italic">P</tspan> = 0.3657</text>
<text x="1688.57" y="1320.1" font-size="26.5">ns</text>
<line x1="1642.3" y1="1298.7" x2="1967.5" y2="1298.7" stroke="#000" stroke-width="4.6" stroke-linecap="butt"/>
<text x="1775.58" y="1292.8" font-size="25" textLength="117.22" lengthAdjust="spacingAndGlyphs"><tspan font-style="italic">P</tspan> = 0.9979</text>
<text x="1746.77" y="1280.9" font-size="26.5">ns</text>
<text x="-85.53" y="9.29" font-size="25.8" font-weight="bold" transform="translate(1642.9,1691.8) rotate(-45)">control</text>
<text x="-115.2" y="9.29" font-size="25.8" font-weight="bold" transform="translate(1745,1691.8) rotate(-45)">aCD80/86</text>
<text x="-176.09" y="9.29" font-size="25.8" font-weight="bold" transform="translate(1846.5,1691.8) rotate(-45)">aCD80/86+IL-2</text>
<text x="-44.76" y="9.29" font-size="25.8" font-weight="bold" transform="translate(1947.9,1691.8) rotate(-45)">IL-2</text>
<text x="-0.82" y="0" font-size="34.5" font-weight="bold" textLength="384.94" lengthAdjust="spacingAndGlyphs" transform="translate(1528.8,1689.6) rotate(-90)">% CTLA-4 in DO11+ Treg</text>
</svg>
</body></html>
